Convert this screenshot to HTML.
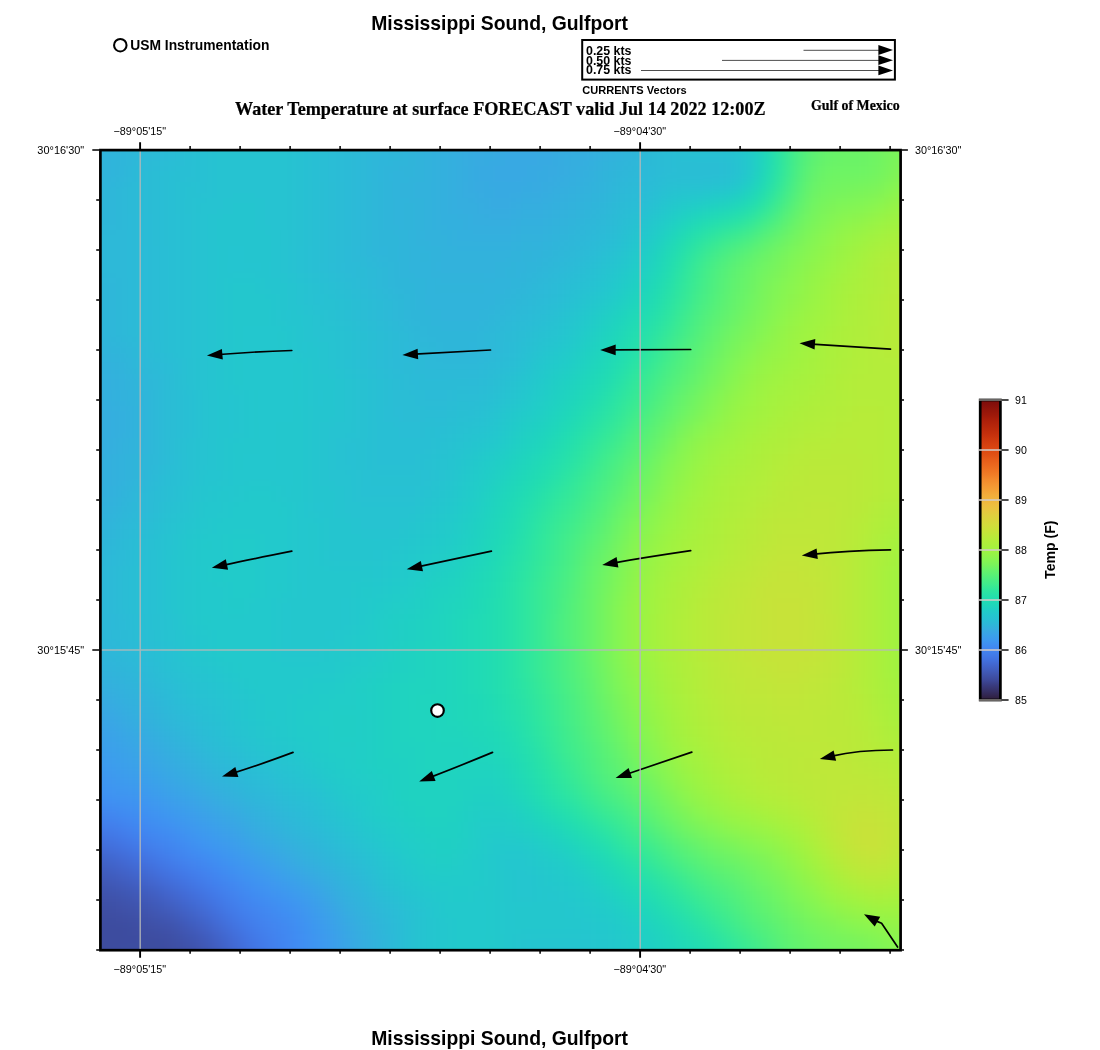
<!DOCTYPE html>
<html><head><meta charset="utf-8"><title>Mississippi Sound, Gulfport</title>
<style>
html,body{margin:0;padding:0;background:#fff;}
body{width:1100px;height:1050px;overflow:hidden;font-family:"Liberation Sans",sans-serif;}
svg{display:block;position:absolute;left:0;top:0;}
text{filter:grayscale(1);}
.sb{font-family:"Liberation Sans",sans-serif;font-weight:bold;fill:#000;}
.sr{font-family:"Liberation Sans",sans-serif;font-weight:normal;fill:#000;}
.tb{font-family:"Liberation Serif",serif;font-weight:bold;fill:#000;stroke:#000;stroke-width:.22px;}
</style></head>
<body>
<svg width="1100" height="1050" viewBox="0 0 1100 1050">
<defs>
<clipPath id="mapclip"><rect x="100" y="150" width="800" height="800"/></clipPath>
<filter id="sm" filterUnits="userSpaceOnUse" x="40" y="90" width="920" height="920" color-interpolation-filters="sRGB"><feGaussianBlur stdDeviation="8"/></filter>
<linearGradient id="cb" x1="0" y1="1" x2="0" y2="0">
<stop offset="0" stop-color="#2e1c37"/><stop offset="0.01667" stop-color="#322752"/><stop offset="0.03333" stop-color="#36326a"/><stop offset="0.05" stop-color="#393c81"/><stop offset="0.06667" stop-color="#3d499a"/><stop offset="0.08333" stop-color="#3f53ac"/><stop offset="0.1" stop-color="#415dbe"/><stop offset="0.1167" stop-color="#4266cf"/><stop offset="0.1333" stop-color="#4271df"/><stop offset="0.15" stop-color="#427be9"/><stop offset="0.1667" stop-color="#4284ef"/><stop offset="0.1833" stop-color="#408df2"/><stop offset="0.2" stop-color="#3d99ef"/><stop offset="0.2167" stop-color="#3aa2e9"/><stop offset="0.2333" stop-color="#37abe1"/><stop offset="0.25" stop-color="#2eb6d9"/><stop offset="0.2667" stop-color="#28bfd4"/><stop offset="0.2833" stop-color="#23c7ce"/><stop offset="0.3" stop-color="#20cec6"/><stop offset="0.3167" stop-color="#1fd7ba"/><stop offset="0.3333" stop-color="#21dcb2"/><stop offset="0.35" stop-color="#27e1a9"/><stop offset="0.3667" stop-color="#2fe69e"/><stop offset="0.3833" stop-color="#3deb8f"/><stop offset="0.4" stop-color="#4aee83"/><stop offset="0.4167" stop-color="#58f176"/><stop offset="0.4333" stop-color="#67f36a"/><stop offset="0.45" stop-color="#79f45b"/><stop offset="0.4667" stop-color="#87f551"/><stop offset="0.4833" stop-color="#93f448"/><stop offset="0.5" stop-color="#a1f340"/><stop offset="0.5167" stop-color="#abf03c"/><stop offset="0.5333" stop-color="#b4ed3a"/><stop offset="0.55" stop-color="#bee839"/><stop offset="0.5667" stop-color="#c9e239"/><stop offset="0.5833" stop-color="#d2dc3b"/><stop offset="0.6" stop-color="#d9d53c"/><stop offset="0.6167" stop-color="#e0ce3e"/><stop offset="0.6333" stop-color="#e8c53f"/><stop offset="0.65" stop-color="#edbd3f"/><stop offset="0.6667" stop-color="#f0b53d"/><stop offset="0.6833" stop-color="#f2ad3b"/><stop offset="0.7" stop-color="#f4a136"/><stop offset="0.7167" stop-color="#f49632"/><stop offset="0.7333" stop-color="#f38b2d"/><stop offset="0.75" stop-color="#f17d27"/><stop offset="0.7667" stop-color="#ee7222"/><stop offset="0.7833" stop-color="#eb671e"/><stop offset="0.8" stop-color="#e75d1a"/><stop offset="0.8167" stop-color="#e15115"/><stop offset="0.8333" stop-color="#dc4912"/><stop offset="0.85" stop-color="#d64110"/><stop offset="0.8667" stop-color="#cf3a0e"/><stop offset="0.8833" stop-color="#c6310d"/><stop offset="0.9" stop-color="#bd2b0b"/><stop offset="0.9167" stop-color="#b4250b"/><stop offset="0.9333" stop-color="#ab1f0a"/><stop offset="0.95" stop-color="#9e190a"/><stop offset="0.9667" stop-color="#93150a"/><stop offset="0.9833" stop-color="#87100b"/><stop offset="1" stop-color="#7a0d0b"/>
</linearGradient>
<path id="ah" d="M0 0L15.5 -5.4L15.5 5.4Z"/>
</defs>
<rect x="0" y="0" width="1100" height="1050" fill="#fff"/>

<!-- temperature field -->
<rect x="100" y="150" width="800" height="800" fill="#2bbfd0"/>
<g clip-path="url(#mapclip)"><g filter="url(#sm)"><g transform="translate(100,150) scale(16)" stroke-width="1.02" shape-rendering="crispEdges">
<path d="M-3 -2.5h4" stroke="#30b4db"/>
<path d="M1 -2.5h1" stroke="#2eb6d9"/>
<path d="M2 -2.5h1" stroke="#2db9d8"/>
<path d="M3 -2.5h1" stroke="#2bbbd7"/>
<path d="M4 -2.5h1" stroke="#2abdd6"/>
<path d="M5 -2.5h1" stroke="#28bfd4"/>
<path d="M6 -2.5h1" stroke="#27c1d3"/>
<path d="M7 -2.5h5" stroke="#26c3d1"/>
<path d="M12 -2.5h1" stroke="#27c1d2"/>
<path d="M13 -2.5h1" stroke="#28bfd4"/>
<path d="M14 -2.5h1" stroke="#2abdd5"/>
<path d="M15 -2.5h1" stroke="#2bbbd7"/>
<path d="M16 -2.5h1" stroke="#2db9d8"/>
<path d="M17 -2.5h1" stroke="#2db9d7"/>
<path d="M18 -2.5h1" stroke="#2eb6d9"/>
<path d="M19 -2.5h1" stroke="#30b4da"/>
<path d="M20 -2.5h1" stroke="#32b2dc"/>
<path d="M21 -2.5h1" stroke="#33b0de"/>
<path d="M22 -2.5h1" stroke="#35aedf"/>
<path d="M23 -2.5h1" stroke="#37abe1"/>
<path d="M24 -2.5h1" stroke="#36abe1"/>
<path d="M25 -2.5h2" stroke="#38a9e3"/>
<path d="M27 -2.5h2" stroke="#36abe1"/>
<path d="M29 -2.5h1" stroke="#37abe1"/>
<path d="M30 -2.5h1" stroke="#35aedf"/>
<path d="M31 -2.5h1" stroke="#33b0de"/>
<path d="M32 -2.5h1" stroke="#32b2dc"/>
<path d="M33 -2.5h1" stroke="#2eb6d9"/>
<path d="M34 -2.5h1" stroke="#2bbbd7"/>
<path d="M35 -2.5h1" stroke="#28bfd4"/>
<path d="M36 -2.5h1" stroke="#27c1d3"/>
<path d="M37 -2.5h2" stroke="#26c3d1"/>
<path d="M39 -2.5h1" stroke="#24c5cf"/>
<path d="M40 -2.5h1" stroke="#21cdc8"/>
<path d="M41 -2.5h1" stroke="#1fd8b8"/>
<path d="M42 -2.5h1" stroke="#2de5a1"/>
<path d="M43 -2.5h1" stroke="#47ed86"/>
<path d="M44 -2.5h1" stroke="#5cf173"/>
<path d="M45 -2.5h1" stroke="#67f36a"/>
<path d="M46 -2.5h1" stroke="#6af367"/>
<path d="M47 -2.5h1" stroke="#6ef464"/>
<path d="M48 -2.5h1" stroke="#72f461"/>
<path d="M49 -2.5h1" stroke="#79f45b"/>
<path d="M50 -2.5h3" stroke="#80f556"/>
<path d="M-3 -1.5h4" stroke="#30b4db"/>
<path d="M1 -1.5h1" stroke="#2eb6d9"/>
<path d="M2 -1.5h1" stroke="#2db9d8"/>
<path d="M3 -1.5h1" stroke="#2bbbd7"/>
<path d="M4 -1.5h1" stroke="#2abdd6"/>
<path d="M5 -1.5h1" stroke="#28bfd4"/>
<path d="M6 -1.5h1" stroke="#27c1d3"/>
<path d="M7 -1.5h5" stroke="#26c3d1"/>
<path d="M12 -1.5h1" stroke="#27c1d2"/>
<path d="M13 -1.5h1" stroke="#28bfd4"/>
<path d="M14 -1.5h1" stroke="#2abdd5"/>
<path d="M15 -1.5h1" stroke="#2bbbd7"/>
<path d="M16 -1.5h1" stroke="#2db9d8"/>
<path d="M17 -1.5h1" stroke="#2db9d7"/>
<path d="M18 -1.5h1" stroke="#2eb6d9"/>
<path d="M19 -1.5h1" stroke="#30b4da"/>
<path d="M20 -1.5h1" stroke="#32b2dc"/>
<path d="M21 -1.5h1" stroke="#33b0de"/>
<path d="M22 -1.5h1" stroke="#35aedf"/>
<path d="M23 -1.5h1" stroke="#37abe1"/>
<path d="M24 -1.5h1" stroke="#36abe1"/>
<path d="M25 -1.5h2" stroke="#38a9e3"/>
<path d="M27 -1.5h2" stroke="#36abe1"/>
<path d="M29 -1.5h1" stroke="#37abe1"/>
<path d="M30 -1.5h1" stroke="#35aedf"/>
<path d="M31 -1.5h1" stroke="#33b0de"/>
<path d="M32 -1.5h1" stroke="#32b2dc"/>
<path d="M33 -1.5h1" stroke="#2eb6d9"/>
<path d="M34 -1.5h1" stroke="#2bbbd7"/>
<path d="M35 -1.5h1" stroke="#28bfd4"/>
<path d="M36 -1.5h1" stroke="#27c1d3"/>
<path d="M37 -1.5h2" stroke="#26c3d1"/>
<path d="M39 -1.5h1" stroke="#24c5cf"/>
<path d="M40 -1.5h1" stroke="#21cdc8"/>
<path d="M41 -1.5h1" stroke="#1fd8b8"/>
<path d="M42 -1.5h1" stroke="#2de5a1"/>
<path d="M43 -1.5h1" stroke="#47ed86"/>
<path d="M44 -1.5h1" stroke="#5cf173"/>
<path d="M45 -1.5h1" stroke="#67f36a"/>
<path d="M46 -1.5h1" stroke="#6af367"/>
<path d="M47 -1.5h1" stroke="#6ef464"/>
<path d="M48 -1.5h1" stroke="#72f461"/>
<path d="M49 -1.5h1" stroke="#79f45b"/>
<path d="M50 -1.5h3" stroke="#80f556"/>
<path d="M-3 -0.5h4" stroke="#30b4db"/>
<path d="M1 -0.5h1" stroke="#2eb6d9"/>
<path d="M2 -0.5h1" stroke="#2db9d8"/>
<path d="M3 -0.5h1" stroke="#2bbbd7"/>
<path d="M4 -0.5h1" stroke="#2abdd6"/>
<path d="M5 -0.5h1" stroke="#28bfd4"/>
<path d="M6 -0.5h1" stroke="#27c1d3"/>
<path d="M7 -0.5h5" stroke="#26c3d1"/>
<path d="M12 -0.5h1" stroke="#27c1d2"/>
<path d="M13 -0.5h1" stroke="#28bfd4"/>
<path d="M14 -0.5h1" stroke="#2abdd5"/>
<path d="M15 -0.5h1" stroke="#2bbbd7"/>
<path d="M16 -0.5h1" stroke="#2db9d8"/>
<path d="M17 -0.5h1" stroke="#2db9d7"/>
<path d="M18 -0.5h1" stroke="#2eb6d9"/>
<path d="M19 -0.5h1" stroke="#30b4da"/>
<path d="M20 -0.5h1" stroke="#32b2dc"/>
<path d="M21 -0.5h1" stroke="#33b0de"/>
<path d="M22 -0.5h1" stroke="#35aedf"/>
<path d="M23 -0.5h1" stroke="#37abe1"/>
<path d="M24 -0.5h1" stroke="#36abe1"/>
<path d="M25 -0.5h2" stroke="#38a9e3"/>
<path d="M27 -0.5h2" stroke="#36abe1"/>
<path d="M29 -0.5h1" stroke="#37abe1"/>
<path d="M30 -0.5h1" stroke="#35aedf"/>
<path d="M31 -0.5h1" stroke="#33b0de"/>
<path d="M32 -0.5h1" stroke="#32b2dc"/>
<path d="M33 -0.5h1" stroke="#2eb6d9"/>
<path d="M34 -0.5h1" stroke="#2bbbd7"/>
<path d="M35 -0.5h1" stroke="#28bfd4"/>
<path d="M36 -0.5h1" stroke="#27c1d3"/>
<path d="M37 -0.5h2" stroke="#26c3d1"/>
<path d="M39 -0.5h1" stroke="#24c5cf"/>
<path d="M40 -0.5h1" stroke="#21cdc8"/>
<path d="M41 -0.5h1" stroke="#1fd8b8"/>
<path d="M42 -0.5h1" stroke="#2de5a1"/>
<path d="M43 -0.5h1" stroke="#47ed86"/>
<path d="M44 -0.5h1" stroke="#5cf173"/>
<path d="M45 -0.5h1" stroke="#67f36a"/>
<path d="M46 -0.5h1" stroke="#6af367"/>
<path d="M47 -0.5h1" stroke="#6ef464"/>
<path d="M48 -0.5h1" stroke="#72f461"/>
<path d="M49 -0.5h1" stroke="#79f45b"/>
<path d="M50 -0.5h3" stroke="#80f556"/>
<path d="M-3 0.5h4" stroke="#30b4db"/>
<path d="M1 0.5h1" stroke="#2eb6da"/>
<path d="M2 0.5h1" stroke="#2db9d8"/>
<path d="M3 0.5h1" stroke="#2bbbd7"/>
<path d="M4 0.5h1" stroke="#2abdd6"/>
<path d="M5 0.5h1" stroke="#28bfd4"/>
<path d="M6 0.5h1" stroke="#27c1d3"/>
<path d="M7 0.5h5" stroke="#26c3d1"/>
<path d="M12 0.5h1" stroke="#27c1d2"/>
<path d="M13 0.5h1" stroke="#28bfd4"/>
<path d="M14 0.5h1" stroke="#2abdd6"/>
<path d="M15 0.5h1" stroke="#2bbbd7"/>
<path d="M16 0.5h1" stroke="#2db9d8"/>
<path d="M17 0.5h1" stroke="#2eb6da"/>
<path d="M18 0.5h1" stroke="#2eb6d9"/>
<path d="M19 0.5h1" stroke="#30b4da"/>
<path d="M20 0.5h1" stroke="#32b2dc"/>
<path d="M21 0.5h1" stroke="#33b0de"/>
<path d="M22 0.5h1" stroke="#35aedf"/>
<path d="M23 0.5h1" stroke="#37abe1"/>
<path d="M24 0.5h1" stroke="#36abe1"/>
<path d="M25 0.5h3" stroke="#38a9e3"/>
<path d="M28 0.5h1" stroke="#36abe1"/>
<path d="M29 0.5h2" stroke="#35aedf"/>
<path d="M31 0.5h1" stroke="#32b2dc"/>
<path d="M32 0.5h1" stroke="#30b4db"/>
<path d="M33 0.5h1" stroke="#2eb6d9"/>
<path d="M34 0.5h1" stroke="#2bbbd6"/>
<path d="M35 0.5h1" stroke="#2abdd5"/>
<path d="M36 0.5h3" stroke="#28bfd4"/>
<path d="M39 0.5h1" stroke="#27c1d2"/>
<path d="M40 0.5h1" stroke="#23c7ce"/>
<path d="M41 0.5h1" stroke="#1fd5bd"/>
<path d="M42 0.5h1" stroke="#2be4a3"/>
<path d="M43 0.5h1" stroke="#47ed86"/>
<path d="M44 0.5h1" stroke="#5cf173"/>
<path d="M45 0.5h1" stroke="#67f36a"/>
<path d="M46 0.5h2" stroke="#6af367"/>
<path d="M48 0.5h1" stroke="#6ef464"/>
<path d="M49 0.5h1" stroke="#79f45b"/>
<path d="M50 0.5h3" stroke="#80f556"/>
<path d="M-3 1.5h4" stroke="#30b4db"/>
<path d="M1 1.5h1" stroke="#2eb6da"/>
<path d="M2 1.5h1" stroke="#2bbbd6"/>
<path d="M3 1.5h1" stroke="#2abdd5"/>
<path d="M4 1.5h1" stroke="#28bfd3"/>
<path d="M5 1.5h1" stroke="#28bfd4"/>
<path d="M6 1.5h1" stroke="#27c1d3"/>
<path d="M7 1.5h5" stroke="#26c3d1"/>
<path d="M12 1.5h1" stroke="#27c1d2"/>
<path d="M13 1.5h1" stroke="#28bfd4"/>
<path d="M14 1.5h1" stroke="#2abdd6"/>
<path d="M15 1.5h1" stroke="#2bbbd7"/>
<path d="M16 1.5h1" stroke="#2db9d8"/>
<path d="M17 1.5h1" stroke="#2eb6da"/>
<path d="M18 1.5h1" stroke="#30b4db"/>
<path d="M19 1.5h1" stroke="#30b4da"/>
<path d="M20 1.5h1" stroke="#32b2dc"/>
<path d="M21 1.5h1" stroke="#33b0de"/>
<path d="M22 1.5h1" stroke="#35aedf"/>
<path d="M23 1.5h1" stroke="#36abe1"/>
<path d="M24 1.5h3" stroke="#38a9e3"/>
<path d="M27 1.5h1" stroke="#36abe1"/>
<path d="M28 1.5h1" stroke="#37abe1"/>
<path d="M29 1.5h1" stroke="#35aedf"/>
<path d="M30 1.5h1" stroke="#33b0de"/>
<path d="M31 1.5h1" stroke="#30b4da"/>
<path d="M32 1.5h1" stroke="#2eb6d9"/>
<path d="M33 1.5h1" stroke="#2db9d8"/>
<path d="M34 1.5h1" stroke="#2bbbd7"/>
<path d="M35 1.5h4" stroke="#2abdd5"/>
<path d="M39 1.5h1" stroke="#28bfd4"/>
<path d="M40 1.5h1" stroke="#23c7ce"/>
<path d="M41 1.5h1" stroke="#1fd7ba"/>
<path d="M42 1.5h1" stroke="#2de5a1"/>
<path d="M43 1.5h1" stroke="#4aee83"/>
<path d="M44 1.5h1" stroke="#63f26d"/>
<path d="M45 1.5h3" stroke="#6ef464"/>
<path d="M48 1.5h1" stroke="#72f461"/>
<path d="M49 1.5h1" stroke="#7cf459"/>
<path d="M50 1.5h3" stroke="#87f551"/>
<path d="M-3 2.5h3" stroke="#30b4db"/>
<path d="M0 2.5h1" stroke="#2eb6d9"/>
<path d="M1 2.5h1" stroke="#2db9d8"/>
<path d="M2 2.5h1" stroke="#2bbbd6"/>
<path d="M3 2.5h1" stroke="#2abdd5"/>
<path d="M4 2.5h1" stroke="#28bfd4"/>
<path d="M5 2.5h1" stroke="#27c1d2"/>
<path d="M6 2.5h1" stroke="#27c1d3"/>
<path d="M7 2.5h5" stroke="#26c3d1"/>
<path d="M12 2.5h1" stroke="#27c1d2"/>
<path d="M13 2.5h1" stroke="#28bfd4"/>
<path d="M14 2.5h1" stroke="#2abdd5"/>
<path d="M15 2.5h1" stroke="#2bbbd7"/>
<path d="M16 2.5h1" stroke="#2db9d8"/>
<path d="M17 2.5h1" stroke="#2eb6d9"/>
<path d="M18 2.5h1" stroke="#30b4db"/>
<path d="M19 2.5h2" stroke="#32b2dc"/>
<path d="M21 2.5h1" stroke="#33b0de"/>
<path d="M22 2.5h1" stroke="#35aedf"/>
<path d="M23 2.5h1" stroke="#37abe1"/>
<path d="M24 2.5h1" stroke="#36abe1"/>
<path d="M25 2.5h1" stroke="#38a9e3"/>
<path d="M26 2.5h1" stroke="#36abe1"/>
<path d="M27 2.5h1" stroke="#37abe1"/>
<path d="M28 2.5h1" stroke="#35aedf"/>
<path d="M29 2.5h1" stroke="#33b0de"/>
<path d="M30 2.5h1" stroke="#32b2dc"/>
<path d="M31 2.5h1" stroke="#30b4db"/>
<path d="M32 2.5h1" stroke="#2db9d8"/>
<path d="M33 2.5h1" stroke="#2bbbd7"/>
<path d="M34 2.5h1" stroke="#2abdd6"/>
<path d="M35 2.5h1" stroke="#27c1d2"/>
<path d="M36 2.5h2" stroke="#26c3d1"/>
<path d="M38 2.5h1" stroke="#24c5cf"/>
<path d="M39 2.5h1" stroke="#23c7ce"/>
<path d="M40 2.5h1" stroke="#1fd0c3"/>
<path d="M41 2.5h1" stroke="#21dcb2"/>
<path d="M42 2.5h1" stroke="#35e898"/>
<path d="M43 2.5h1" stroke="#51ef7d"/>
<path d="M44 2.5h1" stroke="#6af367"/>
<path d="M45 2.5h1" stroke="#72f461"/>
<path d="M46 2.5h1" stroke="#75f45e"/>
<path d="M47 2.5h1" stroke="#79f45b"/>
<path d="M48 2.5h1" stroke="#7cf459"/>
<path d="M49 2.5h1" stroke="#87f551"/>
<path d="M50 2.5h3" stroke="#90f44a"/>
<path d="M-3 3.5h4" stroke="#2eb6d9"/>
<path d="M1 3.5h1" stroke="#2db9d8"/>
<path d="M2 3.5h1" stroke="#2bbbd6"/>
<path d="M3 3.5h1" stroke="#2abdd5"/>
<path d="M4 3.5h1" stroke="#28bfd4"/>
<path d="M5 3.5h1" stroke="#27c1d2"/>
<path d="M6 3.5h2" stroke="#26c3d1"/>
<path d="M8 3.5h2" stroke="#24c5cf"/>
<path d="M10 3.5h2" stroke="#26c3d1"/>
<path d="M12 3.5h1" stroke="#27c1d2"/>
<path d="M13 3.5h1" stroke="#28bfd4"/>
<path d="M14 3.5h1" stroke="#2abdd5"/>
<path d="M15 3.5h1" stroke="#2bbbd7"/>
<path d="M16 3.5h1" stroke="#2db9d8"/>
<path d="M17 3.5h1" stroke="#2eb6d9"/>
<path d="M18 3.5h1" stroke="#30b4db"/>
<path d="M19 3.5h1" stroke="#30b4da"/>
<path d="M20 3.5h1" stroke="#32b2dc"/>
<path d="M21 3.5h1" stroke="#33b0de"/>
<path d="M22 3.5h2" stroke="#35aedf"/>
<path d="M24 3.5h2" stroke="#37abe1"/>
<path d="M26 3.5h2" stroke="#35aedf"/>
<path d="M28 3.5h1" stroke="#33b0de"/>
<path d="M29 3.5h1" stroke="#32b2dc"/>
<path d="M30 3.5h1" stroke="#30b4db"/>
<path d="M31 3.5h1" stroke="#2eb6d9"/>
<path d="M32 3.5h1" stroke="#2bbbd6"/>
<path d="M33 3.5h1" stroke="#2abdd6"/>
<path d="M34 3.5h1" stroke="#27c1d3"/>
<path d="M35 3.5h1" stroke="#23c7cd"/>
<path d="M36 3.5h1" stroke="#21cbca"/>
<path d="M37 3.5h1" stroke="#20cec6"/>
<path d="M38 3.5h1" stroke="#1fd2c1"/>
<path d="M39 3.5h1" stroke="#1fd5bd"/>
<path d="M40 3.5h1" stroke="#20dbb4"/>
<path d="M41 3.5h1" stroke="#2be4a3"/>
<path d="M42 3.5h1" stroke="#43ec89"/>
<path d="M43 3.5h1" stroke="#5cf173"/>
<path d="M44 3.5h1" stroke="#72f461"/>
<path d="M45 3.5h1" stroke="#7cf459"/>
<path d="M46 3.5h1" stroke="#80f556"/>
<path d="M47 3.5h1" stroke="#83f554"/>
<path d="M48 3.5h1" stroke="#8af54f"/>
<path d="M49 3.5h1" stroke="#93f448"/>
<path d="M50 3.5h3" stroke="#9cf343"/>
<path d="M-3 4.5h4" stroke="#2eb6d9"/>
<path d="M1 4.5h1" stroke="#2db9d8"/>
<path d="M2 4.5h1" stroke="#2bbbd7"/>
<path d="M3 4.5h1" stroke="#2abdd5"/>
<path d="M4 4.5h1" stroke="#28bfd4"/>
<path d="M5 4.5h1" stroke="#27c1d3"/>
<path d="M6 4.5h1" stroke="#26c3d1"/>
<path d="M7 4.5h3" stroke="#24c5cf"/>
<path d="M10 4.5h2" stroke="#26c3d1"/>
<path d="M12 4.5h1" stroke="#27c1d2"/>
<path d="M13 4.5h1" stroke="#28bfd4"/>
<path d="M14 4.5h1" stroke="#2abdd5"/>
<path d="M15 4.5h1" stroke="#2bbbd7"/>
<path d="M16 4.5h1" stroke="#2db9d8"/>
<path d="M17 4.5h1" stroke="#2eb6d9"/>
<path d="M18 4.5h1" stroke="#30b4db"/>
<path d="M19 4.5h1" stroke="#30b4da"/>
<path d="M20 4.5h1" stroke="#32b2dc"/>
<path d="M21 4.5h2" stroke="#33b0de"/>
<path d="M23 4.5h3" stroke="#35aedf"/>
<path d="M26 4.5h2" stroke="#33b0de"/>
<path d="M28 4.5h1" stroke="#32b2dc"/>
<path d="M29 4.5h1" stroke="#30b4db"/>
<path d="M30 4.5h1" stroke="#2eb6d9"/>
<path d="M31 4.5h1" stroke="#2db9d8"/>
<path d="M32 4.5h1" stroke="#2abdd5"/>
<path d="M33 4.5h1" stroke="#27c1d2"/>
<path d="M34 4.5h1" stroke="#23c7cd"/>
<path d="M35 4.5h1" stroke="#21cdc8"/>
<path d="M36 4.5h1" stroke="#1fd4bf"/>
<path d="M37 4.5h1" stroke="#20dab6"/>
<path d="M38 4.5h1" stroke="#23deb0"/>
<path d="M39 4.5h1" stroke="#27e1a9"/>
<path d="M40 4.5h1" stroke="#2fe69e"/>
<path d="M41 4.5h1" stroke="#40ec8c"/>
<path d="M42 4.5h1" stroke="#54f079"/>
<path d="M43 4.5h1" stroke="#6af367"/>
<path d="M44 4.5h1" stroke="#79f45b"/>
<path d="M45 4.5h1" stroke="#83f554"/>
<path d="M46 4.5h1" stroke="#8df54d"/>
<path d="M47 4.5h1" stroke="#90f44a"/>
<path d="M48 4.5h1" stroke="#99f445"/>
<path d="M49 4.5h1" stroke="#9ef341"/>
<path d="M50 4.5h3" stroke="#a3f23f"/>
<path d="M-3 5.5h3" stroke="#2eb6d9"/>
<path d="M0 5.5h2" stroke="#2db9d8"/>
<path d="M2 5.5h1" stroke="#2bbbd7"/>
<path d="M3 5.5h1" stroke="#2abdd5"/>
<path d="M4 5.5h1" stroke="#28bfd4"/>
<path d="M5 5.5h1" stroke="#27c1d3"/>
<path d="M6 5.5h1" stroke="#26c3d1"/>
<path d="M7 5.5h4" stroke="#24c5cf"/>
<path d="M11 5.5h1" stroke="#26c3d1"/>
<path d="M12 5.5h1" stroke="#27c1d2"/>
<path d="M13 5.5h1" stroke="#28bfd4"/>
<path d="M14 5.5h1" stroke="#2abdd5"/>
<path d="M15 5.5h1" stroke="#2bbbd6"/>
<path d="M16 5.5h1" stroke="#2db9d8"/>
<path d="M17 5.5h2" stroke="#2eb6d9"/>
<path d="M19 5.5h1" stroke="#30b4db"/>
<path d="M20 5.5h2" stroke="#32b2dc"/>
<path d="M22 5.5h4" stroke="#33b0de"/>
<path d="M26 5.5h2" stroke="#32b2dc"/>
<path d="M28 5.5h1" stroke="#30b4db"/>
<path d="M29 5.5h1" stroke="#2eb6d9"/>
<path d="M30 5.5h1" stroke="#2db9d8"/>
<path d="M31 5.5h1" stroke="#2bbbd7"/>
<path d="M32 5.5h1" stroke="#28bfd4"/>
<path d="M33 5.5h1" stroke="#24c5cf"/>
<path d="M34 5.5h1" stroke="#21cbca"/>
<path d="M35 5.5h1" stroke="#1fd4bf"/>
<path d="M36 5.5h1" stroke="#21dcb2"/>
<path d="M37 5.5h1" stroke="#29e2a6"/>
<path d="M38 5.5h1" stroke="#32e79b"/>
<path d="M39 5.5h1" stroke="#3deb8f"/>
<path d="M40 5.5h1" stroke="#47ed86"/>
<path d="M41 5.5h1" stroke="#58f176"/>
<path d="M42 5.5h1" stroke="#67f36a"/>
<path d="M43 5.5h1" stroke="#75f45e"/>
<path d="M44 5.5h1" stroke="#83f554"/>
<path d="M45 5.5h1" stroke="#8df54d"/>
<path d="M46 5.5h1" stroke="#96f446"/>
<path d="M47 5.5h1" stroke="#9cf343"/>
<path d="M48 5.5h1" stroke="#a3f23f"/>
<path d="M49 5.5h1" stroke="#a8f13d"/>
<path d="M50 5.5h3" stroke="#adef3b"/>
<path d="M-3 6.5h3" stroke="#2eb6da"/>
<path d="M0 6.5h2" stroke="#2db9d8"/>
<path d="M2 6.5h1" stroke="#2bbbd7"/>
<path d="M3 6.5h1" stroke="#2abdd6"/>
<path d="M4 6.5h1" stroke="#28bfd4"/>
<path d="M5 6.5h1" stroke="#27c1d3"/>
<path d="M6 6.5h1" stroke="#26c3d1"/>
<path d="M7 6.5h1" stroke="#24c5cf"/>
<path d="M8 6.5h1" stroke="#24c5d0"/>
<path d="M9 6.5h2" stroke="#24c5cf"/>
<path d="M11 6.5h1" stroke="#26c3d1"/>
<path d="M12 6.5h1" stroke="#27c1d3"/>
<path d="M13 6.5h1" stroke="#28bfd4"/>
<path d="M14 6.5h1" stroke="#2abdd5"/>
<path d="M15 6.5h1" stroke="#2bbbd7"/>
<path d="M16 6.5h1" stroke="#2db9d8"/>
<path d="M17 6.5h1" stroke="#2eb6da"/>
<path d="M18 6.5h1" stroke="#2eb6d9"/>
<path d="M19 6.5h1" stroke="#30b4db"/>
<path d="M20 6.5h1" stroke="#30b4da"/>
<path d="M21 6.5h5" stroke="#32b2dc"/>
<path d="M26 6.5h1" stroke="#30b4da"/>
<path d="M27 6.5h1" stroke="#30b4db"/>
<path d="M28 6.5h1" stroke="#2eb6d9"/>
<path d="M29 6.5h1" stroke="#2db9d8"/>
<path d="M30 6.5h1" stroke="#2bbbd7"/>
<path d="M31 6.5h1" stroke="#28bfd4"/>
<path d="M32 6.5h1" stroke="#26c3d1"/>
<path d="M33 6.5h1" stroke="#22c9cc"/>
<path d="M34 6.5h1" stroke="#1fd0c3"/>
<path d="M35 6.5h1" stroke="#20dab6"/>
<path d="M36 6.5h1" stroke="#27e1a9"/>
<path d="M37 6.5h1" stroke="#35e898"/>
<path d="M38 6.5h1" stroke="#43ec89"/>
<path d="M39 6.5h1" stroke="#51ef7d"/>
<path d="M40 6.5h1" stroke="#5cf173"/>
<path d="M41 6.5h1" stroke="#6af367"/>
<path d="M42 6.5h1" stroke="#75f45e"/>
<path d="M43 6.5h1" stroke="#80f556"/>
<path d="M44 6.5h1" stroke="#8af54f"/>
<path d="M45 6.5h1" stroke="#93f448"/>
<path d="M46 6.5h1" stroke="#9cf343"/>
<path d="M47 6.5h1" stroke="#a3f23f"/>
<path d="M48 6.5h1" stroke="#abf03c"/>
<path d="M49 6.5h1" stroke="#afee3b"/>
<path d="M50 6.5h3" stroke="#b2ee3a"/>
<path d="M-3 7.5h3" stroke="#2eb6d9"/>
<path d="M0 7.5h2" stroke="#2db9d8"/>
<path d="M2 7.5h1" stroke="#2bbbd7"/>
<path d="M3 7.5h1" stroke="#2abdd6"/>
<path d="M4 7.5h1" stroke="#28bfd4"/>
<path d="M5 7.5h1" stroke="#27c1d3"/>
<path d="M6 7.5h1" stroke="#26c3d1"/>
<path d="M7 7.5h1" stroke="#24c5cf"/>
<path d="M8 7.5h2" stroke="#24c5d0"/>
<path d="M10 7.5h1" stroke="#24c5cf"/>
<path d="M11 7.5h1" stroke="#26c3d1"/>
<path d="M12 7.5h1" stroke="#27c1d3"/>
<path d="M13 7.5h1" stroke="#28bfd4"/>
<path d="M14 7.5h1" stroke="#2abdd6"/>
<path d="M15 7.5h1" stroke="#2bbbd7"/>
<path d="M16 7.5h1" stroke="#2bbbd6"/>
<path d="M17 7.5h1" stroke="#2db9d8"/>
<path d="M18 7.5h1" stroke="#2eb6d9"/>
<path d="M19 7.5h2" stroke="#30b4db"/>
<path d="M21 7.5h4" stroke="#32b2dc"/>
<path d="M25 7.5h1" stroke="#30b4da"/>
<path d="M26 7.5h1" stroke="#30b4db"/>
<path d="M27 7.5h1" stroke="#2eb6d9"/>
<path d="M28 7.5h1" stroke="#2db9d8"/>
<path d="M29 7.5h1" stroke="#2bbbd7"/>
<path d="M30 7.5h1" stroke="#28bfd4"/>
<path d="M31 7.5h1" stroke="#26c3d1"/>
<path d="M32 7.5h1" stroke="#23c7cd"/>
<path d="M33 7.5h1" stroke="#21cdc8"/>
<path d="M34 7.5h1" stroke="#1fd4bf"/>
<path d="M35 7.5h1" stroke="#21dcb2"/>
<path d="M36 7.5h1" stroke="#2de5a1"/>
<path d="M37 7.5h1" stroke="#3deb8f"/>
<path d="M38 7.5h1" stroke="#4eef80"/>
<path d="M39 7.5h1" stroke="#5cf173"/>
<path d="M40 7.5h1" stroke="#67f36a"/>
<path d="M41 7.5h1" stroke="#72f461"/>
<path d="M42 7.5h1" stroke="#7cf459"/>
<path d="M43 7.5h1" stroke="#87f551"/>
<path d="M44 7.5h1" stroke="#90f44a"/>
<path d="M45 7.5h1" stroke="#99f445"/>
<path d="M46 7.5h1" stroke="#a1f340"/>
<path d="M47 7.5h1" stroke="#a8f13d"/>
<path d="M48 7.5h1" stroke="#afee3b"/>
<path d="M49 7.5h1" stroke="#b4ed3a"/>
<path d="M50 7.5h3" stroke="#b7ec39"/>
<path d="M-3 8.5h4" stroke="#2eb6d9"/>
<path d="M1 8.5h1" stroke="#2db9d8"/>
<path d="M2 8.5h1" stroke="#2bbbd7"/>
<path d="M3 8.5h1" stroke="#2abdd6"/>
<path d="M4 8.5h1" stroke="#28bfd4"/>
<path d="M5 8.5h1" stroke="#27c1d3"/>
<path d="M6 8.5h1" stroke="#26c3d1"/>
<path d="M7 8.5h1" stroke="#24c5cf"/>
<path d="M8 8.5h2" stroke="#23c7cd"/>
<path d="M10 8.5h2" stroke="#24c5cf"/>
<path d="M12 8.5h1" stroke="#26c3d1"/>
<path d="M13 8.5h1" stroke="#27c1d2"/>
<path d="M14 8.5h1" stroke="#28bfd4"/>
<path d="M15 8.5h1" stroke="#2abdd5"/>
<path d="M16 8.5h1" stroke="#2bbbd7"/>
<path d="M17 8.5h1" stroke="#2db9d8"/>
<path d="M18 8.5h2" stroke="#2eb6d9"/>
<path d="M20 8.5h1" stroke="#30b4db"/>
<path d="M21 8.5h3" stroke="#30b4da"/>
<path d="M24 8.5h2" stroke="#30b4db"/>
<path d="M26 8.5h1" stroke="#2eb6d9"/>
<path d="M27 8.5h1" stroke="#2db9d8"/>
<path d="M28 8.5h1" stroke="#2bbbd7"/>
<path d="M29 8.5h1" stroke="#28bfd4"/>
<path d="M30 8.5h1" stroke="#27c1d3"/>
<path d="M31 8.5h1" stroke="#24c5d0"/>
<path d="M32 8.5h1" stroke="#21cbca"/>
<path d="M33 8.5h1" stroke="#1fd0c3"/>
<path d="M34 8.5h1" stroke="#1fd8b8"/>
<path d="M35 8.5h1" stroke="#24dfad"/>
<path d="M36 8.5h1" stroke="#32e79b"/>
<path d="M37 8.5h1" stroke="#40ec8c"/>
<path d="M38 8.5h1" stroke="#51ef7d"/>
<path d="M39 8.5h1" stroke="#5ff270"/>
<path d="M40 8.5h1" stroke="#6af367"/>
<path d="M41 8.5h1" stroke="#79f45b"/>
<path d="M42 8.5h1" stroke="#83f554"/>
<path d="M43 8.5h1" stroke="#8df54d"/>
<path d="M44 8.5h1" stroke="#96f446"/>
<path d="M45 8.5h1" stroke="#9ef341"/>
<path d="M46 8.5h1" stroke="#a6f13e"/>
<path d="M47 8.5h1" stroke="#abf03c"/>
<path d="M48 8.5h1" stroke="#afee3b"/>
<path d="M49 8.5h1" stroke="#b4ed3a"/>
<path d="M50 8.5h3" stroke="#b7ec39"/>
<path d="M-3 9.5h4" stroke="#2eb6d9"/>
<path d="M1 9.5h1" stroke="#2db9d8"/>
<path d="M2 9.5h1" stroke="#2bbbd7"/>
<path d="M3 9.5h1" stroke="#2abdd6"/>
<path d="M4 9.5h1" stroke="#28bfd4"/>
<path d="M5 9.5h1" stroke="#27c1d3"/>
<path d="M6 9.5h1" stroke="#26c3d1"/>
<path d="M7 9.5h1" stroke="#24c5cf"/>
<path d="M8 9.5h3" stroke="#23c7cd"/>
<path d="M11 9.5h1" stroke="#24c5cf"/>
<path d="M12 9.5h1" stroke="#26c3d1"/>
<path d="M13 9.5h1" stroke="#27c1d3"/>
<path d="M14 9.5h1" stroke="#27c1d2"/>
<path d="M15 9.5h1" stroke="#28bfd3"/>
<path d="M16 9.5h1" stroke="#2abdd5"/>
<path d="M17 9.5h1" stroke="#2bbbd6"/>
<path d="M18 9.5h1" stroke="#2db9d8"/>
<path d="M19 9.5h1" stroke="#2eb6d9"/>
<path d="M20 9.5h5" stroke="#30b4db"/>
<path d="M25 9.5h1" stroke="#2eb6d9"/>
<path d="M26 9.5h1" stroke="#2db9d8"/>
<path d="M27 9.5h1" stroke="#2bbbd7"/>
<path d="M28 9.5h1" stroke="#2abdd6"/>
<path d="M29 9.5h1" stroke="#27c1d3"/>
<path d="M30 9.5h1" stroke="#24c5cf"/>
<path d="M31 9.5h1" stroke="#22c9cc"/>
<path d="M32 9.5h1" stroke="#20cec6"/>
<path d="M33 9.5h1" stroke="#1fd5bd"/>
<path d="M34 9.5h1" stroke="#20dbb4"/>
<path d="M35 9.5h1" stroke="#29e2a6"/>
<path d="M36 9.5h1" stroke="#35e898"/>
<path d="M37 9.5h1" stroke="#47ed86"/>
<path d="M38 9.5h1" stroke="#54f079"/>
<path d="M39 9.5h1" stroke="#63f26d"/>
<path d="M40 9.5h1" stroke="#6ef464"/>
<path d="M41 9.5h1" stroke="#7cf459"/>
<path d="M42 9.5h1" stroke="#87f551"/>
<path d="M43 9.5h1" stroke="#90f44a"/>
<path d="M44 9.5h1" stroke="#99f445"/>
<path d="M45 9.5h1" stroke="#a1f340"/>
<path d="M46 9.5h1" stroke="#a8f13d"/>
<path d="M47 9.5h1" stroke="#adef3b"/>
<path d="M48 9.5h1" stroke="#b2ee3a"/>
<path d="M49 9.5h4" stroke="#b7ec39"/>
<path d="M-3 10.5h4" stroke="#2eb6d9"/>
<path d="M1 10.5h1" stroke="#2db9d8"/>
<path d="M2 10.5h1" stroke="#2bbbd7"/>
<path d="M3 10.5h1" stroke="#2abdd5"/>
<path d="M4 10.5h1" stroke="#28bfd4"/>
<path d="M5 10.5h1" stroke="#27c1d3"/>
<path d="M6 10.5h1" stroke="#26c3d1"/>
<path d="M7 10.5h1" stroke="#24c5cf"/>
<path d="M8 10.5h3" stroke="#23c7cd"/>
<path d="M11 10.5h1" stroke="#24c5d0"/>
<path d="M12 10.5h1" stroke="#24c5cf"/>
<path d="M13 10.5h1" stroke="#26c3d1"/>
<path d="M14 10.5h1" stroke="#27c1d2"/>
<path d="M15 10.5h1" stroke="#28bfd4"/>
<path d="M16 10.5h1" stroke="#2abdd5"/>
<path d="M17 10.5h1" stroke="#2bbbd7"/>
<path d="M18 10.5h1" stroke="#2db9d8"/>
<path d="M19 10.5h2" stroke="#2eb6d9"/>
<path d="M21 10.5h3" stroke="#30b4db"/>
<path d="M24 10.5h1" stroke="#2eb6d9"/>
<path d="M25 10.5h1" stroke="#2db9d8"/>
<path d="M26 10.5h1" stroke="#2bbbd7"/>
<path d="M27 10.5h1" stroke="#2abdd6"/>
<path d="M28 10.5h1" stroke="#27c1d2"/>
<path d="M29 10.5h1" stroke="#24c5cf"/>
<path d="M30 10.5h1" stroke="#22c9cc"/>
<path d="M31 10.5h1" stroke="#20cec5"/>
<path d="M32 10.5h1" stroke="#1fd4bf"/>
<path d="M33 10.5h1" stroke="#20dab6"/>
<path d="M34 10.5h1" stroke="#24dfad"/>
<path d="M35 10.5h1" stroke="#2de5a1"/>
<path d="M36 10.5h1" stroke="#3deb8f"/>
<path d="M37 10.5h1" stroke="#4eef80"/>
<path d="M38 10.5h1" stroke="#5cf173"/>
<path d="M39 10.5h1" stroke="#67f36a"/>
<path d="M40 10.5h1" stroke="#75f45e"/>
<path d="M41 10.5h1" stroke="#80f556"/>
<path d="M42 10.5h1" stroke="#8df54d"/>
<path d="M43 10.5h1" stroke="#96f446"/>
<path d="M44 10.5h1" stroke="#9ef341"/>
<path d="M45 10.5h1" stroke="#a3f23f"/>
<path d="M46 10.5h1" stroke="#abf03c"/>
<path d="M47 10.5h1" stroke="#afee3b"/>
<path d="M48 10.5h1" stroke="#b2ee3a"/>
<path d="M49 10.5h4" stroke="#b7ec39"/>
<path d="M-3 11.5h3" stroke="#30b4db"/>
<path d="M0 11.5h1" stroke="#2eb6d9"/>
<path d="M1 11.5h1" stroke="#2db9d8"/>
<path d="M2 11.5h1" stroke="#2bbbd6"/>
<path d="M3 11.5h1" stroke="#2abdd5"/>
<path d="M4 11.5h1" stroke="#28bfd4"/>
<path d="M5 11.5h1" stroke="#27c1d3"/>
<path d="M6 11.5h1" stroke="#26c3d1"/>
<path d="M7 11.5h1" stroke="#24c5cf"/>
<path d="M8 11.5h1" stroke="#23c7cd"/>
<path d="M9 11.5h2" stroke="#23c7ce"/>
<path d="M11 11.5h1" stroke="#23c7cd"/>
<path d="M12 11.5h1" stroke="#24c5cf"/>
<path d="M13 11.5h2" stroke="#26c3d1"/>
<path d="M15 11.5h1" stroke="#27c1d2"/>
<path d="M16 11.5h1" stroke="#28bfd3"/>
<path d="M17 11.5h1" stroke="#2abdd5"/>
<path d="M18 11.5h1" stroke="#2bbbd6"/>
<path d="M19 11.5h1" stroke="#2db9d8"/>
<path d="M20 11.5h4" stroke="#2eb6d9"/>
<path d="M24 11.5h1" stroke="#2db9d8"/>
<path d="M25 11.5h1" stroke="#2bbbd6"/>
<path d="M26 11.5h1" stroke="#2abdd5"/>
<path d="M27 11.5h1" stroke="#27c1d2"/>
<path d="M28 11.5h1" stroke="#26c3d1"/>
<path d="M29 11.5h1" stroke="#23c7ce"/>
<path d="M30 11.5h1" stroke="#21cdc8"/>
<path d="M31 11.5h1" stroke="#1fd2c1"/>
<path d="M32 11.5h1" stroke="#1fd7ba"/>
<path d="M33 11.5h1" stroke="#23deb0"/>
<path d="M34 11.5h1" stroke="#29e2a6"/>
<path d="M35 11.5h1" stroke="#35e898"/>
<path d="M36 11.5h1" stroke="#43ec89"/>
<path d="M37 11.5h1" stroke="#54f079"/>
<path d="M38 11.5h1" stroke="#63f26d"/>
<path d="M39 11.5h1" stroke="#72f461"/>
<path d="M40 11.5h1" stroke="#7cf459"/>
<path d="M41 11.5h1" stroke="#87f551"/>
<path d="M42 11.5h1" stroke="#93f448"/>
<path d="M43 11.5h1" stroke="#9cf343"/>
<path d="M44 11.5h1" stroke="#a1f340"/>
<path d="M45 11.5h1" stroke="#a8f13d"/>
<path d="M46 11.5h1" stroke="#adef3b"/>
<path d="M47 11.5h1" stroke="#afee3b"/>
<path d="M48 11.5h1" stroke="#b4ed3a"/>
<path d="M49 11.5h4" stroke="#b7ec39"/>
<path d="M-3 12.5h3" stroke="#30b4da"/>
<path d="M0 12.5h1" stroke="#30b4db"/>
<path d="M1 12.5h1" stroke="#2eb6d9"/>
<path d="M2 12.5h1" stroke="#2db9d8"/>
<path d="M3 12.5h1" stroke="#2abdd5"/>
<path d="M4 12.5h1" stroke="#28bfd4"/>
<path d="M5 12.5h1" stroke="#27c1d3"/>
<path d="M6 12.5h1" stroke="#26c3d1"/>
<path d="M7 12.5h1" stroke="#24c5cf"/>
<path d="M8 12.5h1" stroke="#23c7cd"/>
<path d="M9 12.5h2" stroke="#23c7ce"/>
<path d="M11 12.5h1" stroke="#23c7cd"/>
<path d="M12 12.5h1" stroke="#24c5d0"/>
<path d="M13 12.5h1" stroke="#24c5cf"/>
<path d="M14 12.5h1" stroke="#26c3d1"/>
<path d="M15 12.5h1" stroke="#27c1d2"/>
<path d="M16 12.5h1" stroke="#28bfd4"/>
<path d="M17 12.5h1" stroke="#2abdd5"/>
<path d="M18 12.5h1" stroke="#2bbbd7"/>
<path d="M19 12.5h2" stroke="#2db9d8"/>
<path d="M21 12.5h2" stroke="#2eb6d9"/>
<path d="M23 12.5h1" stroke="#2eb6da"/>
<path d="M24 12.5h1" stroke="#2db9d8"/>
<path d="M25 12.5h1" stroke="#2bbbd7"/>
<path d="M26 12.5h1" stroke="#28bfd4"/>
<path d="M27 12.5h1" stroke="#26c3d1"/>
<path d="M28 12.5h1" stroke="#23c7ce"/>
<path d="M29 12.5h1" stroke="#21cbca"/>
<path d="M30 12.5h1" stroke="#1fd0c3"/>
<path d="M31 12.5h1" stroke="#1fd5bd"/>
<path d="M32 12.5h1" stroke="#20dbb4"/>
<path d="M33 12.5h1" stroke="#25e0ab"/>
<path d="M34 12.5h1" stroke="#2fe69e"/>
<path d="M35 12.5h1" stroke="#3deb8f"/>
<path d="M36 12.5h1" stroke="#4eef80"/>
<path d="M37 12.5h1" stroke="#5cf173"/>
<path d="M38 12.5h1" stroke="#6af367"/>
<path d="M39 12.5h1" stroke="#79f45b"/>
<path d="M40 12.5h1" stroke="#83f554"/>
<path d="M41 12.5h1" stroke="#90f44a"/>
<path d="M42 12.5h1" stroke="#96f446"/>
<path d="M43 12.5h1" stroke="#9ef341"/>
<path d="M44 12.5h1" stroke="#a3f23f"/>
<path d="M45 12.5h1" stroke="#abf03c"/>
<path d="M46 12.5h1" stroke="#adef3b"/>
<path d="M47 12.5h1" stroke="#b2ee3a"/>
<path d="M48 12.5h1" stroke="#b4ed3a"/>
<path d="M49 12.5h4" stroke="#b7ec39"/>
<path d="M-3 13.5h4" stroke="#32b2dc"/>
<path d="M1 13.5h1" stroke="#30b4db"/>
<path d="M2 13.5h1" stroke="#2db9d8"/>
<path d="M3 13.5h1" stroke="#2bbbd7"/>
<path d="M4 13.5h1" stroke="#2abdd6"/>
<path d="M5 13.5h1" stroke="#27c1d2"/>
<path d="M6 13.5h1" stroke="#26c3d1"/>
<path d="M7 13.5h1" stroke="#24c5cf"/>
<path d="M8 13.5h1" stroke="#23c7cd"/>
<path d="M9 13.5h3" stroke="#23c7ce"/>
<path d="M12 13.5h1" stroke="#23c7cd"/>
<path d="M13 13.5h1" stroke="#24c5cf"/>
<path d="M14 13.5h1" stroke="#26c3d1"/>
<path d="M15 13.5h1" stroke="#27c1d3"/>
<path d="M16 13.5h1" stroke="#28bfd4"/>
<path d="M17 13.5h1" stroke="#2abdd6"/>
<path d="M18 13.5h1" stroke="#2bbbd7"/>
<path d="M19 13.5h1" stroke="#2bbbd6"/>
<path d="M20 13.5h4" stroke="#2db9d8"/>
<path d="M24 13.5h1" stroke="#2bbbd7"/>
<path d="M25 13.5h1" stroke="#2abdd6"/>
<path d="M26 13.5h1" stroke="#27c1d3"/>
<path d="M27 13.5h1" stroke="#23c7cd"/>
<path d="M28 13.5h1" stroke="#21cbca"/>
<path d="M29 13.5h1" stroke="#20cec6"/>
<path d="M30 13.5h1" stroke="#1fd4bf"/>
<path d="M31 13.5h1" stroke="#1fd8b8"/>
<path d="M32 13.5h1" stroke="#23deb0"/>
<path d="M33 13.5h1" stroke="#2be4a3"/>
<path d="M34 13.5h1" stroke="#37e995"/>
<path d="M35 13.5h1" stroke="#47ed86"/>
<path d="M36 13.5h1" stroke="#54f079"/>
<path d="M37 13.5h1" stroke="#63f26d"/>
<path d="M38 13.5h1" stroke="#72f461"/>
<path d="M39 13.5h1" stroke="#80f556"/>
<path d="M40 13.5h1" stroke="#8df54d"/>
<path d="M41 13.5h1" stroke="#96f446"/>
<path d="M42 13.5h1" stroke="#9cf343"/>
<path d="M43 13.5h1" stroke="#a1f340"/>
<path d="M44 13.5h1" stroke="#a6f13e"/>
<path d="M45 13.5h1" stroke="#abf03c"/>
<path d="M46 13.5h1" stroke="#afee3b"/>
<path d="M47 13.5h1" stroke="#b2ee3a"/>
<path d="M48 13.5h5" stroke="#b4ed3a"/>
<path d="M-3 14.5h4" stroke="#33b0de"/>
<path d="M1 14.5h1" stroke="#32b2dc"/>
<path d="M2 14.5h1" stroke="#2eb6d9"/>
<path d="M3 14.5h1" stroke="#2db9d8"/>
<path d="M4 14.5h1" stroke="#2abdd5"/>
<path d="M5 14.5h1" stroke="#27c1d2"/>
<path d="M6 14.5h1" stroke="#26c3d1"/>
<path d="M7 14.5h1" stroke="#24c5cf"/>
<path d="M8 14.5h1" stroke="#23c7cd"/>
<path d="M9 14.5h3" stroke="#23c7ce"/>
<path d="M12 14.5h1" stroke="#23c7cd"/>
<path d="M13 14.5h2" stroke="#24c5cf"/>
<path d="M15 14.5h1" stroke="#26c3d1"/>
<path d="M16 14.5h1" stroke="#27c1d2"/>
<path d="M17 14.5h1" stroke="#28bfd4"/>
<path d="M18 14.5h1" stroke="#2abdd5"/>
<path d="M19 14.5h1" stroke="#2bbbd7"/>
<path d="M20 14.5h3" stroke="#2bbbd6"/>
<path d="M23 14.5h1" stroke="#2bbbd7"/>
<path d="M24 14.5h1" stroke="#2abdd5"/>
<path d="M25 14.5h1" stroke="#27c1d2"/>
<path d="M26 14.5h1" stroke="#24c5cf"/>
<path d="M27 14.5h1" stroke="#22c9cc"/>
<path d="M28 14.5h1" stroke="#20cec5"/>
<path d="M29 14.5h1" stroke="#1fd2c1"/>
<path d="M30 14.5h1" stroke="#1fd7ba"/>
<path d="M31 14.5h1" stroke="#20dbb4"/>
<path d="M32 14.5h1" stroke="#27e1a9"/>
<path d="M33 14.5h1" stroke="#32e79b"/>
<path d="M34 14.5h1" stroke="#40ec8c"/>
<path d="M35 14.5h1" stroke="#4eef80"/>
<path d="M36 14.5h1" stroke="#5cf173"/>
<path d="M37 14.5h1" stroke="#6af367"/>
<path d="M38 14.5h1" stroke="#79f45b"/>
<path d="M39 14.5h1" stroke="#87f551"/>
<path d="M40 14.5h1" stroke="#93f448"/>
<path d="M41 14.5h1" stroke="#9cf343"/>
<path d="M42 14.5h1" stroke="#a1f340"/>
<path d="M43 14.5h1" stroke="#a6f13e"/>
<path d="M44 14.5h1" stroke="#a8f13d"/>
<path d="M45 14.5h1" stroke="#adef3b"/>
<path d="M46 14.5h1" stroke="#b2ee3a"/>
<path d="M47 14.5h6" stroke="#b4ed3a"/>
<path d="M-3 15.5h3" stroke="#35aedf"/>
<path d="M0 15.5h1" stroke="#33b0de"/>
<path d="M1 15.5h1" stroke="#32b2dc"/>
<path d="M2 15.5h1" stroke="#30b4db"/>
<path d="M3 15.5h1" stroke="#2db9d8"/>
<path d="M4 15.5h1" stroke="#2abdd5"/>
<path d="M5 15.5h1" stroke="#28bfd4"/>
<path d="M6 15.5h1" stroke="#26c3d1"/>
<path d="M7 15.5h1" stroke="#24c5cf"/>
<path d="M8 15.5h1" stroke="#24c5d0"/>
<path d="M9 15.5h1" stroke="#23c7cd"/>
<path d="M10 15.5h2" stroke="#23c7ce"/>
<path d="M12 15.5h1" stroke="#23c7cd"/>
<path d="M13 15.5h1" stroke="#24c5d0"/>
<path d="M14 15.5h1" stroke="#24c5cf"/>
<path d="M15 15.5h1" stroke="#26c3d1"/>
<path d="M16 15.5h1" stroke="#27c1d2"/>
<path d="M17 15.5h1" stroke="#28bfd4"/>
<path d="M18 15.5h2" stroke="#2abdd5"/>
<path d="M20 15.5h2" stroke="#2bbbd7"/>
<path d="M22 15.5h2" stroke="#2abdd5"/>
<path d="M24 15.5h1" stroke="#28bfd4"/>
<path d="M25 15.5h1" stroke="#26c3d1"/>
<path d="M26 15.5h1" stroke="#23c7ce"/>
<path d="M27 15.5h1" stroke="#21cdc8"/>
<path d="M28 15.5h1" stroke="#1fd0c3"/>
<path d="M29 15.5h1" stroke="#1fd5bd"/>
<path d="M30 15.5h1" stroke="#20dab6"/>
<path d="M31 15.5h1" stroke="#24dfad"/>
<path d="M32 15.5h1" stroke="#2de5a1"/>
<path d="M33 15.5h1" stroke="#37e995"/>
<path d="M34 15.5h1" stroke="#47ed86"/>
<path d="M35 15.5h1" stroke="#58f176"/>
<path d="M36 15.5h1" stroke="#67f36a"/>
<path d="M37 15.5h1" stroke="#75f45e"/>
<path d="M38 15.5h1" stroke="#83f554"/>
<path d="M39 15.5h1" stroke="#90f44a"/>
<path d="M40 15.5h1" stroke="#99f445"/>
<path d="M41 15.5h1" stroke="#a1f340"/>
<path d="M42 15.5h1" stroke="#a6f13e"/>
<path d="M43 15.5h1" stroke="#a8f13d"/>
<path d="M44 15.5h1" stroke="#adef3b"/>
<path d="M45 15.5h1" stroke="#afee3b"/>
<path d="M46 15.5h1" stroke="#b2ee3a"/>
<path d="M47 15.5h3" stroke="#b4ed3a"/>
<path d="M50 15.5h3" stroke="#b2ee3a"/>
<path d="M-3 16.5h4" stroke="#35aedf"/>
<path d="M1 16.5h1" stroke="#33b0de"/>
<path d="M2 16.5h1" stroke="#30b4db"/>
<path d="M3 16.5h1" stroke="#2db9d8"/>
<path d="M4 16.5h1" stroke="#2abdd5"/>
<path d="M5 16.5h1" stroke="#28bfd4"/>
<path d="M6 16.5h1" stroke="#26c3d1"/>
<path d="M7 16.5h1" stroke="#24c5cf"/>
<path d="M8 16.5h1" stroke="#24c5d0"/>
<path d="M9 16.5h1" stroke="#23c7cd"/>
<path d="M10 16.5h2" stroke="#23c7ce"/>
<path d="M12 16.5h1" stroke="#23c7cd"/>
<path d="M13 16.5h2" stroke="#24c5cf"/>
<path d="M15 16.5h1" stroke="#26c3d1"/>
<path d="M16 16.5h1" stroke="#27c1d2"/>
<path d="M17 16.5h1" stroke="#28bfd4"/>
<path d="M18 16.5h1" stroke="#2abdd6"/>
<path d="M19 16.5h3" stroke="#2abdd5"/>
<path d="M22 16.5h1" stroke="#28bfd3"/>
<path d="M23 16.5h1" stroke="#28bfd4"/>
<path d="M24 16.5h1" stroke="#26c3d1"/>
<path d="M25 16.5h1" stroke="#23c7cd"/>
<path d="M26 16.5h1" stroke="#21cbca"/>
<path d="M27 16.5h1" stroke="#20cec6"/>
<path d="M28 16.5h1" stroke="#1fd4bf"/>
<path d="M29 16.5h1" stroke="#1fd8b8"/>
<path d="M30 16.5h1" stroke="#23deb0"/>
<path d="M31 16.5h1" stroke="#29e2a6"/>
<path d="M32 16.5h1" stroke="#32e79b"/>
<path d="M33 16.5h1" stroke="#40ec8c"/>
<path d="M34 16.5h1" stroke="#51ef7d"/>
<path d="M35 16.5h1" stroke="#5ff270"/>
<path d="M36 16.5h1" stroke="#6ef464"/>
<path d="M37 16.5h1" stroke="#7cf459"/>
<path d="M38 16.5h1" stroke="#8af54f"/>
<path d="M39 16.5h1" stroke="#96f446"/>
<path d="M40 16.5h1" stroke="#9ef341"/>
<path d="M41 16.5h1" stroke="#a3f23f"/>
<path d="M42 16.5h1" stroke="#a8f13d"/>
<path d="M43 16.5h1" stroke="#adef3b"/>
<path d="M44 16.5h1" stroke="#afee3b"/>
<path d="M45 16.5h1" stroke="#b2ee3a"/>
<path d="M46 16.5h1" stroke="#b4ed3a"/>
<path d="M47 16.5h2" stroke="#b7ec39"/>
<path d="M49 16.5h1" stroke="#b4ed3a"/>
<path d="M50 16.5h3" stroke="#b2ee3a"/>
<path d="M-3 17.5h4" stroke="#35aedf"/>
<path d="M1 17.5h1" stroke="#33b0de"/>
<path d="M2 17.5h1" stroke="#30b4db"/>
<path d="M3 17.5h1" stroke="#2db9d8"/>
<path d="M4 17.5h1" stroke="#2abdd5"/>
<path d="M5 17.5h1" stroke="#28bfd4"/>
<path d="M6 17.5h1" stroke="#26c3d1"/>
<path d="M7 17.5h1" stroke="#24c5cf"/>
<path d="M8 17.5h1" stroke="#24c5d0"/>
<path d="M9 17.5h1" stroke="#23c7cd"/>
<path d="M10 17.5h1" stroke="#23c7ce"/>
<path d="M11 17.5h2" stroke="#23c7cd"/>
<path d="M13 17.5h1" stroke="#24c5cf"/>
<path d="M14 17.5h2" stroke="#26c3d1"/>
<path d="M16 17.5h1" stroke="#27c1d2"/>
<path d="M17 17.5h2" stroke="#28bfd4"/>
<path d="M19 17.5h1" stroke="#2abdd6"/>
<path d="M20 17.5h1" stroke="#28bfd3"/>
<path d="M21 17.5h1" stroke="#28bfd4"/>
<path d="M22 17.5h1" stroke="#27c1d2"/>
<path d="M23 17.5h1" stroke="#26c3d1"/>
<path d="M24 17.5h1" stroke="#24c5d0"/>
<path d="M25 17.5h1" stroke="#22c9cc"/>
<path d="M26 17.5h1" stroke="#20cec5"/>
<path d="M27 17.5h1" stroke="#1fd2c1"/>
<path d="M28 17.5h1" stroke="#1fd7ba"/>
<path d="M29 17.5h1" stroke="#21dcb2"/>
<path d="M30 17.5h1" stroke="#27e1a9"/>
<path d="M31 17.5h1" stroke="#2fe69e"/>
<path d="M32 17.5h1" stroke="#3aea92"/>
<path d="M33 17.5h1" stroke="#4aee83"/>
<path d="M34 17.5h1" stroke="#5cf173"/>
<path d="M35 17.5h1" stroke="#6af367"/>
<path d="M36 17.5h1" stroke="#7cf459"/>
<path d="M37 17.5h1" stroke="#8af54f"/>
<path d="M38 17.5h1" stroke="#93f448"/>
<path d="M39 17.5h1" stroke="#9cf343"/>
<path d="M40 17.5h1" stroke="#a3f23f"/>
<path d="M41 17.5h1" stroke="#a8f13d"/>
<path d="M42 17.5h1" stroke="#adef3b"/>
<path d="M43 17.5h1" stroke="#afee3b"/>
<path d="M44 17.5h1" stroke="#b2ee3a"/>
<path d="M45 17.5h1" stroke="#b4ed3a"/>
<path d="M46 17.5h3" stroke="#b7ec39"/>
<path d="M49 17.5h4" stroke="#b4ed3a"/>
<path d="M-3 18.5h4" stroke="#35aedf"/>
<path d="M1 18.5h1" stroke="#32b2dc"/>
<path d="M2 18.5h1" stroke="#30b4db"/>
<path d="M3 18.5h1" stroke="#2db9d8"/>
<path d="M4 18.5h1" stroke="#2abdd5"/>
<path d="M5 18.5h1" stroke="#27c1d2"/>
<path d="M6 18.5h1" stroke="#26c3d1"/>
<path d="M7 18.5h1" stroke="#24c5cf"/>
<path d="M8 18.5h2" stroke="#23c7cd"/>
<path d="M10 18.5h1" stroke="#23c7ce"/>
<path d="M11 18.5h2" stroke="#23c7cd"/>
<path d="M13 18.5h1" stroke="#24c5cf"/>
<path d="M14 18.5h1" stroke="#26c3d1"/>
<path d="M15 18.5h1" stroke="#27c1d3"/>
<path d="M16 18.5h1" stroke="#27c1d2"/>
<path d="M17 18.5h4" stroke="#28bfd4"/>
<path d="M21 18.5h1" stroke="#27c1d2"/>
<path d="M22 18.5h1" stroke="#26c3d1"/>
<path d="M23 18.5h1" stroke="#24c5cf"/>
<path d="M24 18.5h1" stroke="#22c9cc"/>
<path d="M25 18.5h1" stroke="#21cdc8"/>
<path d="M26 18.5h1" stroke="#1fd2c1"/>
<path d="M27 18.5h1" stroke="#1fd5bd"/>
<path d="M28 18.5h1" stroke="#20dbb4"/>
<path d="M29 18.5h1" stroke="#25e0ab"/>
<path d="M30 18.5h1" stroke="#2de5a1"/>
<path d="M31 18.5h1" stroke="#37e995"/>
<path d="M32 18.5h1" stroke="#43ec89"/>
<path d="M33 18.5h1" stroke="#54f079"/>
<path d="M34 18.5h1" stroke="#63f26d"/>
<path d="M35 18.5h1" stroke="#75f45e"/>
<path d="M36 18.5h1" stroke="#87f551"/>
<path d="M37 18.5h1" stroke="#93f448"/>
<path d="M38 18.5h1" stroke="#9cf343"/>
<path d="M39 18.5h1" stroke="#a1f340"/>
<path d="M40 18.5h1" stroke="#a8f13d"/>
<path d="M41 18.5h1" stroke="#adef3b"/>
<path d="M42 18.5h1" stroke="#afee3b"/>
<path d="M43 18.5h1" stroke="#b4ed3a"/>
<path d="M44 18.5h2" stroke="#b7ec39"/>
<path d="M46 18.5h1" stroke="#b9ea39"/>
<path d="M47 18.5h2" stroke="#b7ec39"/>
<path d="M49 18.5h4" stroke="#b4ed3a"/>
<path d="M-3 19.5h3" stroke="#35aedf"/>
<path d="M0 19.5h1" stroke="#33b0de"/>
<path d="M1 19.5h1" stroke="#32b2dc"/>
<path d="M2 19.5h1" stroke="#2eb6d9"/>
<path d="M3 19.5h1" stroke="#2db9d8"/>
<path d="M4 19.5h1" stroke="#2abdd6"/>
<path d="M5 19.5h1" stroke="#27c1d2"/>
<path d="M6 19.5h1" stroke="#26c3d1"/>
<path d="M7 19.5h1" stroke="#24c5cf"/>
<path d="M8 19.5h1" stroke="#23c7cd"/>
<path d="M9 19.5h2" stroke="#23c7ce"/>
<path d="M11 19.5h2" stroke="#23c7cd"/>
<path d="M13 19.5h1" stroke="#24c5cf"/>
<path d="M14 19.5h1" stroke="#26c3d1"/>
<path d="M15 19.5h1" stroke="#27c1d3"/>
<path d="M16 19.5h1" stroke="#27c1d2"/>
<path d="M17 19.5h3" stroke="#28bfd4"/>
<path d="M20 19.5h1" stroke="#27c1d2"/>
<path d="M21 19.5h1" stroke="#26c3d1"/>
<path d="M22 19.5h1" stroke="#24c5cf"/>
<path d="M23 19.5h1" stroke="#22c9cb"/>
<path d="M24 19.5h1" stroke="#21cdc8"/>
<path d="M25 19.5h1" stroke="#1fd0c3"/>
<path d="M26 19.5h1" stroke="#1fd5bd"/>
<path d="M27 19.5h1" stroke="#20dab6"/>
<path d="M28 19.5h1" stroke="#23deb0"/>
<path d="M29 19.5h1" stroke="#29e2a6"/>
<path d="M30 19.5h1" stroke="#32e79b"/>
<path d="M31 19.5h1" stroke="#40ec8c"/>
<path d="M32 19.5h1" stroke="#4eef80"/>
<path d="M33 19.5h1" stroke="#5cf173"/>
<path d="M34 19.5h1" stroke="#6ef464"/>
<path d="M35 19.5h1" stroke="#80f556"/>
<path d="M36 19.5h1" stroke="#8df54d"/>
<path d="M37 19.5h1" stroke="#99f445"/>
<path d="M38 19.5h1" stroke="#a1f340"/>
<path d="M39 19.5h1" stroke="#a6f13e"/>
<path d="M40 19.5h1" stroke="#abf03c"/>
<path d="M41 19.5h1" stroke="#afee3b"/>
<path d="M42 19.5h1" stroke="#b4ed3a"/>
<path d="M43 19.5h1" stroke="#b7ec39"/>
<path d="M44 19.5h4" stroke="#b9ea39"/>
<path d="M48 19.5h1" stroke="#b7ec39"/>
<path d="M49 19.5h4" stroke="#b4ed3a"/>
<path d="M-3 20.5h3" stroke="#35aedf"/>
<path d="M0 20.5h1" stroke="#33b0de"/>
<path d="M1 20.5h1" stroke="#32b2dc"/>
<path d="M2 20.5h1" stroke="#2eb6d9"/>
<path d="M3 20.5h1" stroke="#2bbbd7"/>
<path d="M4 20.5h1" stroke="#28bfd4"/>
<path d="M5 20.5h1" stroke="#27c1d3"/>
<path d="M6 20.5h1" stroke="#24c5cf"/>
<path d="M7 20.5h1" stroke="#24c5d0"/>
<path d="M8 20.5h4" stroke="#23c7ce"/>
<path d="M12 20.5h1" stroke="#23c7cd"/>
<path d="M13 20.5h1" stroke="#24c5cf"/>
<path d="M14 20.5h2" stroke="#26c3d1"/>
<path d="M16 20.5h1" stroke="#27c1d3"/>
<path d="M17 20.5h3" stroke="#27c1d2"/>
<path d="M20 20.5h1" stroke="#27c1d3"/>
<path d="M21 20.5h1" stroke="#26c3d1"/>
<path d="M22 20.5h1" stroke="#23c7cd"/>
<path d="M23 20.5h1" stroke="#21cbca"/>
<path d="M24 20.5h1" stroke="#20cec6"/>
<path d="M25 20.5h1" stroke="#1fd4bf"/>
<path d="M26 20.5h1" stroke="#1fd8b8"/>
<path d="M27 20.5h1" stroke="#21dcb2"/>
<path d="M28 20.5h1" stroke="#27e1a9"/>
<path d="M29 20.5h1" stroke="#2fe69e"/>
<path d="M30 20.5h1" stroke="#3aea92"/>
<path d="M31 20.5h1" stroke="#47ed86"/>
<path d="M32 20.5h1" stroke="#54f079"/>
<path d="M33 20.5h1" stroke="#67f36a"/>
<path d="M34 20.5h1" stroke="#75f45e"/>
<path d="M35 20.5h1" stroke="#87f551"/>
<path d="M36 20.5h1" stroke="#93f448"/>
<path d="M37 20.5h1" stroke="#9ef341"/>
<path d="M38 20.5h1" stroke="#a6f13e"/>
<path d="M39 20.5h1" stroke="#abf03c"/>
<path d="M40 20.5h1" stroke="#afee3b"/>
<path d="M41 20.5h1" stroke="#b2ee3a"/>
<path d="M42 20.5h1" stroke="#b7ec39"/>
<path d="M43 20.5h1" stroke="#b9ea39"/>
<path d="M44 20.5h3" stroke="#bbe939"/>
<path d="M47 20.5h1" stroke="#b9ea39"/>
<path d="M48 20.5h1" stroke="#b7ec39"/>
<path d="M49 20.5h1" stroke="#b4ed3a"/>
<path d="M50 20.5h3" stroke="#b2ee3a"/>
<path d="M-3 21.5h4" stroke="#33b0de"/>
<path d="M1 21.5h1" stroke="#30b4db"/>
<path d="M2 21.5h1" stroke="#2db9d8"/>
<path d="M3 21.5h1" stroke="#2abdd5"/>
<path d="M4 21.5h1" stroke="#28bfd4"/>
<path d="M5 21.5h1" stroke="#26c3d1"/>
<path d="M6 21.5h1" stroke="#24c5cf"/>
<path d="M7 21.5h1" stroke="#23c7cd"/>
<path d="M8 21.5h1" stroke="#23c7ce"/>
<path d="M9 21.5h2" stroke="#22c9cb"/>
<path d="M11 21.5h1" stroke="#23c7ce"/>
<path d="M12 21.5h1" stroke="#23c7cd"/>
<path d="M13 21.5h2" stroke="#24c5cf"/>
<path d="M15 21.5h1" stroke="#26c3d1"/>
<path d="M16 21.5h4" stroke="#27c1d3"/>
<path d="M20 21.5h1" stroke="#26c3d1"/>
<path d="M21 21.5h1" stroke="#24c5cf"/>
<path d="M22 21.5h1" stroke="#22c9cc"/>
<path d="M23 21.5h1" stroke="#21cdc8"/>
<path d="M24 21.5h1" stroke="#1fd2c1"/>
<path d="M25 21.5h1" stroke="#1fd7ba"/>
<path d="M26 21.5h1" stroke="#20dbb4"/>
<path d="M27 21.5h1" stroke="#25e0ab"/>
<path d="M28 21.5h1" stroke="#2de5a1"/>
<path d="M29 21.5h1" stroke="#35e898"/>
<path d="M30 21.5h1" stroke="#40ec8c"/>
<path d="M31 21.5h1" stroke="#4eef80"/>
<path d="M32 21.5h1" stroke="#5cf173"/>
<path d="M33 21.5h1" stroke="#6ef464"/>
<path d="M34 21.5h1" stroke="#7cf459"/>
<path d="M35 21.5h1" stroke="#8df54d"/>
<path d="M36 21.5h1" stroke="#99f445"/>
<path d="M37 21.5h1" stroke="#a1f340"/>
<path d="M38 21.5h1" stroke="#a8f13d"/>
<path d="M39 21.5h1" stroke="#adef3b"/>
<path d="M40 21.5h1" stroke="#b2ee3a"/>
<path d="M41 21.5h1" stroke="#b4ed3a"/>
<path d="M42 21.5h1" stroke="#b9ea39"/>
<path d="M43 21.5h4" stroke="#bbe939"/>
<path d="M47 21.5h1" stroke="#b9ea39"/>
<path d="M48 21.5h1" stroke="#b7ec39"/>
<path d="M49 21.5h1" stroke="#b4ed3a"/>
<path d="M50 21.5h3" stroke="#b2ee3a"/>
<path d="M-3 22.5h4" stroke="#32b2dc"/>
<path d="M1 22.5h1" stroke="#2eb6d9"/>
<path d="M2 22.5h1" stroke="#2db9d8"/>
<path d="M3 22.5h1" stroke="#2abdd5"/>
<path d="M4 22.5h1" stroke="#27c1d2"/>
<path d="M5 22.5h1" stroke="#26c3d1"/>
<path d="M6 22.5h1" stroke="#23c7cd"/>
<path d="M7 22.5h1" stroke="#23c7ce"/>
<path d="M8 22.5h3" stroke="#22c9cc"/>
<path d="M11 22.5h1" stroke="#22c9cb"/>
<path d="M12 22.5h1" stroke="#23c7ce"/>
<path d="M13 22.5h1" stroke="#24c5d0"/>
<path d="M14 22.5h1" stroke="#24c5cf"/>
<path d="M15 22.5h5" stroke="#26c3d1"/>
<path d="M20 22.5h1" stroke="#24c5cf"/>
<path d="M21 22.5h1" stroke="#23c7ce"/>
<path d="M22 22.5h1" stroke="#21cbca"/>
<path d="M23 22.5h1" stroke="#20cec6"/>
<path d="M24 22.5h1" stroke="#1fd4bf"/>
<path d="M25 22.5h1" stroke="#1fd8b8"/>
<path d="M26 22.5h1" stroke="#23deb0"/>
<path d="M27 22.5h1" stroke="#29e2a6"/>
<path d="M28 22.5h1" stroke="#32e79b"/>
<path d="M29 22.5h1" stroke="#3aea92"/>
<path d="M30 22.5h1" stroke="#47ed86"/>
<path d="M31 22.5h1" stroke="#54f079"/>
<path d="M32 22.5h1" stroke="#67f36a"/>
<path d="M33 22.5h1" stroke="#75f45e"/>
<path d="M34 22.5h1" stroke="#87f551"/>
<path d="M35 22.5h1" stroke="#93f448"/>
<path d="M36 22.5h1" stroke="#9ef341"/>
<path d="M37 22.5h1" stroke="#a6f13e"/>
<path d="M38 22.5h1" stroke="#abf03c"/>
<path d="M39 22.5h1" stroke="#afee3b"/>
<path d="M40 22.5h1" stroke="#b4ed3a"/>
<path d="M41 22.5h1" stroke="#b9ea39"/>
<path d="M42 22.5h2" stroke="#bbe939"/>
<path d="M44 22.5h2" stroke="#bee839"/>
<path d="M46 22.5h1" stroke="#bbe939"/>
<path d="M47 22.5h1" stroke="#b9ea39"/>
<path d="M48 22.5h1" stroke="#b4ed3a"/>
<path d="M49 22.5h1" stroke="#afee3b"/>
<path d="M50 22.5h3" stroke="#adef3b"/>
<path d="M-3 23.5h3" stroke="#32b2dc"/>
<path d="M0 23.5h1" stroke="#30b4db"/>
<path d="M1 23.5h1" stroke="#2db9d8"/>
<path d="M2 23.5h1" stroke="#2bbbd7"/>
<path d="M3 23.5h1" stroke="#28bfd4"/>
<path d="M4 23.5h1" stroke="#26c3d1"/>
<path d="M5 23.5h1" stroke="#24c5cf"/>
<path d="M6 23.5h1" stroke="#23c7ce"/>
<path d="M7 23.5h5" stroke="#22c9cc"/>
<path d="M12 23.5h1" stroke="#23c7ce"/>
<path d="M13 23.5h1" stroke="#23c7cd"/>
<path d="M14 23.5h2" stroke="#24c5cf"/>
<path d="M16 23.5h3" stroke="#26c3d1"/>
<path d="M19 23.5h1" stroke="#24c5cf"/>
<path d="M20 23.5h1" stroke="#23c7cd"/>
<path d="M21 23.5h1" stroke="#22c9cc"/>
<path d="M22 23.5h1" stroke="#21cdc8"/>
<path d="M23 23.5h1" stroke="#1fd0c3"/>
<path d="M24 23.5h1" stroke="#1fd5bd"/>
<path d="M25 23.5h1" stroke="#20dab6"/>
<path d="M26 23.5h1" stroke="#24dfad"/>
<path d="M27 23.5h1" stroke="#2de5a1"/>
<path d="M28 23.5h1" stroke="#37e995"/>
<path d="M29 23.5h1" stroke="#40ec8c"/>
<path d="M30 23.5h1" stroke="#4eef80"/>
<path d="M31 23.5h1" stroke="#5cf173"/>
<path d="M32 23.5h1" stroke="#6ef464"/>
<path d="M33 23.5h1" stroke="#80f556"/>
<path d="M34 23.5h1" stroke="#8df54d"/>
<path d="M35 23.5h1" stroke="#99f445"/>
<path d="M36 23.5h1" stroke="#a1f340"/>
<path d="M37 23.5h1" stroke="#a8f13d"/>
<path d="M38 23.5h1" stroke="#adef3b"/>
<path d="M39 23.5h1" stroke="#b2ee3a"/>
<path d="M40 23.5h1" stroke="#b7ec39"/>
<path d="M41 23.5h1" stroke="#bbe939"/>
<path d="M42 23.5h4" stroke="#bee839"/>
<path d="M46 23.5h1" stroke="#bbe939"/>
<path d="M47 23.5h1" stroke="#b7ec39"/>
<path d="M48 23.5h1" stroke="#b2ee3a"/>
<path d="M49 23.5h1" stroke="#adef3b"/>
<path d="M50 23.5h3" stroke="#a8f13d"/>
<path d="M-3 24.5h3" stroke="#30b4db"/>
<path d="M0 24.5h1" stroke="#2eb6d9"/>
<path d="M1 24.5h1" stroke="#2bbbd6"/>
<path d="M2 24.5h1" stroke="#2abdd5"/>
<path d="M3 24.5h1" stroke="#27c1d2"/>
<path d="M4 24.5h1" stroke="#26c3d1"/>
<path d="M5 24.5h1" stroke="#23c7cd"/>
<path d="M6 24.5h1" stroke="#22c9cb"/>
<path d="M7 24.5h1" stroke="#22c9cc"/>
<path d="M8 24.5h2" stroke="#21cbca"/>
<path d="M10 24.5h2" stroke="#22c9cc"/>
<path d="M12 24.5h1" stroke="#23c7ce"/>
<path d="M13 24.5h1" stroke="#23c7cd"/>
<path d="M14 24.5h5" stroke="#24c5cf"/>
<path d="M19 24.5h1" stroke="#23c7cd"/>
<path d="M20 24.5h1" stroke="#22c9cc"/>
<path d="M21 24.5h1" stroke="#21cbca"/>
<path d="M22 24.5h1" stroke="#20cec6"/>
<path d="M23 24.5h1" stroke="#1fd2c1"/>
<path d="M24 24.5h1" stroke="#1fd7ba"/>
<path d="M25 24.5h1" stroke="#20dbb4"/>
<path d="M26 24.5h1" stroke="#27e1a9"/>
<path d="M27 24.5h1" stroke="#2fe69e"/>
<path d="M28 24.5h1" stroke="#3aea92"/>
<path d="M29 24.5h1" stroke="#47ed86"/>
<path d="M30 24.5h1" stroke="#54f079"/>
<path d="M31 24.5h1" stroke="#63f26d"/>
<path d="M32 24.5h1" stroke="#75f45e"/>
<path d="M33 24.5h1" stroke="#87f551"/>
<path d="M34 24.5h1" stroke="#93f448"/>
<path d="M35 24.5h1" stroke="#9ef341"/>
<path d="M36 24.5h1" stroke="#a6f13e"/>
<path d="M37 24.5h1" stroke="#abf03c"/>
<path d="M38 24.5h1" stroke="#afee3b"/>
<path d="M39 24.5h1" stroke="#b4ed3a"/>
<path d="M40 24.5h1" stroke="#b9ea39"/>
<path d="M41 24.5h1" stroke="#bbe939"/>
<path d="M42 24.5h3" stroke="#c0e739"/>
<path d="M45 24.5h1" stroke="#bee839"/>
<path d="M46 24.5h1" stroke="#bbe939"/>
<path d="M47 24.5h1" stroke="#b7ec39"/>
<path d="M48 24.5h1" stroke="#afee3b"/>
<path d="M49 24.5h1" stroke="#a8f13d"/>
<path d="M50 24.5h3" stroke="#a3f23f"/>
<path d="M-3 25.5h3" stroke="#2eb6d9"/>
<path d="M0 25.5h1" stroke="#2db9d8"/>
<path d="M1 25.5h1" stroke="#2bbbd7"/>
<path d="M2 25.5h1" stroke="#28bfd4"/>
<path d="M3 25.5h1" stroke="#27c1d3"/>
<path d="M4 25.5h1" stroke="#24c5cf"/>
<path d="M5 25.5h1" stroke="#23c7cd"/>
<path d="M6 25.5h2" stroke="#22c9cc"/>
<path d="M8 25.5h2" stroke="#21cbca"/>
<path d="M10 25.5h2" stroke="#22c9cc"/>
<path d="M12 25.5h1" stroke="#23c7ce"/>
<path d="M13 25.5h1" stroke="#23c7cd"/>
<path d="M14 25.5h1" stroke="#24c5d0"/>
<path d="M15 25.5h2" stroke="#24c5cf"/>
<path d="M17 25.5h1" stroke="#24c5d0"/>
<path d="M18 25.5h1" stroke="#23c7ce"/>
<path d="M19 25.5h1" stroke="#22c9cc"/>
<path d="M20 25.5h1" stroke="#21cbca"/>
<path d="M21 25.5h1" stroke="#21cdc8"/>
<path d="M22 25.5h1" stroke="#1fd0c3"/>
<path d="M23 25.5h1" stroke="#1fd4bf"/>
<path d="M24 25.5h1" stroke="#1fd8b8"/>
<path d="M25 25.5h1" stroke="#23deb0"/>
<path d="M26 25.5h1" stroke="#29e2a6"/>
<path d="M27 25.5h1" stroke="#32e79b"/>
<path d="M28 25.5h1" stroke="#3deb8f"/>
<path d="M29 25.5h1" stroke="#4aee83"/>
<path d="M30 25.5h1" stroke="#5cf173"/>
<path d="M31 25.5h1" stroke="#6af367"/>
<path d="M32 25.5h1" stroke="#7cf459"/>
<path d="M33 25.5h1" stroke="#8df54d"/>
<path d="M34 25.5h1" stroke="#99f445"/>
<path d="M35 25.5h1" stroke="#a1f340"/>
<path d="M36 25.5h1" stroke="#a8f13d"/>
<path d="M37 25.5h1" stroke="#adef3b"/>
<path d="M38 25.5h1" stroke="#b2ee3a"/>
<path d="M39 25.5h1" stroke="#b7ec39"/>
<path d="M40 25.5h1" stroke="#bbe939"/>
<path d="M41 25.5h1" stroke="#c0e739"/>
<path d="M42 25.5h3" stroke="#c2e639"/>
<path d="M45 25.5h1" stroke="#bee839"/>
<path d="M46 25.5h1" stroke="#bbe939"/>
<path d="M47 25.5h1" stroke="#b4ed3a"/>
<path d="M48 25.5h1" stroke="#adef3b"/>
<path d="M49 25.5h1" stroke="#a6f13e"/>
<path d="M50 25.5h3" stroke="#a1f340"/>
<path d="M-3 26.5h4" stroke="#2db9d8"/>
<path d="M1 26.5h1" stroke="#2abdd5"/>
<path d="M2 26.5h1" stroke="#28bfd4"/>
<path d="M3 26.5h1" stroke="#27c1d3"/>
<path d="M4 26.5h1" stroke="#24c5cf"/>
<path d="M5 26.5h1" stroke="#23c7ce"/>
<path d="M6 26.5h1" stroke="#22c9cc"/>
<path d="M7 26.5h1" stroke="#21cbc9"/>
<path d="M8 26.5h2" stroke="#21cbca"/>
<path d="M10 26.5h2" stroke="#22c9cc"/>
<path d="M12 26.5h1" stroke="#23c7ce"/>
<path d="M13 26.5h4" stroke="#23c7cd"/>
<path d="M17 26.5h1" stroke="#23c7ce"/>
<path d="M18 26.5h1" stroke="#22c9cc"/>
<path d="M19 26.5h1" stroke="#21cbca"/>
<path d="M20 26.5h1" stroke="#21cdc8"/>
<path d="M21 26.5h1" stroke="#1fd0c3"/>
<path d="M22 26.5h1" stroke="#1fd2c1"/>
<path d="M23 26.5h1" stroke="#1fd7ba"/>
<path d="M24 26.5h1" stroke="#20dab6"/>
<path d="M25 26.5h1" stroke="#24dfad"/>
<path d="M26 26.5h1" stroke="#2be4a3"/>
<path d="M27 26.5h1" stroke="#35e898"/>
<path d="M28 26.5h1" stroke="#40ec8c"/>
<path d="M29 26.5h1" stroke="#4eef80"/>
<path d="M30 26.5h1" stroke="#5ff270"/>
<path d="M31 26.5h1" stroke="#6ef464"/>
<path d="M32 26.5h1" stroke="#80f556"/>
<path d="M33 26.5h1" stroke="#90f44a"/>
<path d="M34 26.5h1" stroke="#9cf343"/>
<path d="M35 26.5h1" stroke="#a6f13e"/>
<path d="M36 26.5h1" stroke="#abf03c"/>
<path d="M37 26.5h1" stroke="#b2ee3a"/>
<path d="M38 26.5h1" stroke="#b7ec39"/>
<path d="M39 26.5h1" stroke="#bbe939"/>
<path d="M40 26.5h1" stroke="#bee839"/>
<path d="M41 26.5h1" stroke="#c2e639"/>
<path d="M42 26.5h2" stroke="#c5e439"/>
<path d="M44 26.5h1" stroke="#c2e639"/>
<path d="M45 26.5h1" stroke="#c0e739"/>
<path d="M46 26.5h1" stroke="#bbe939"/>
<path d="M47 26.5h1" stroke="#b4ed3a"/>
<path d="M48 26.5h1" stroke="#adef3b"/>
<path d="M49 26.5h1" stroke="#a3f23f"/>
<path d="M50 26.5h3" stroke="#a1f340"/>
<path d="M-3 27.5h4" stroke="#2db9d8"/>
<path d="M1 27.5h1" stroke="#2abdd5"/>
<path d="M2 27.5h1" stroke="#28bfd4"/>
<path d="M3 27.5h1" stroke="#27c1d3"/>
<path d="M4 27.5h1" stroke="#24c5cf"/>
<path d="M5 27.5h1" stroke="#23c7cd"/>
<path d="M6 27.5h2" stroke="#22c9cc"/>
<path d="M8 27.5h2" stroke="#21cbca"/>
<path d="M10 27.5h1" stroke="#22c9cc"/>
<path d="M11 27.5h1" stroke="#22c9cb"/>
<path d="M12 27.5h1" stroke="#23c7ce"/>
<path d="M13 27.5h3" stroke="#23c7cd"/>
<path d="M16 27.5h1" stroke="#22c9cb"/>
<path d="M17 27.5h1" stroke="#22c9cc"/>
<path d="M18 27.5h1" stroke="#21cbca"/>
<path d="M19 27.5h1" stroke="#21cdc8"/>
<path d="M20 27.5h1" stroke="#1fd0c3"/>
<path d="M21 27.5h1" stroke="#1fd2c1"/>
<path d="M22 27.5h1" stroke="#1fd4bf"/>
<path d="M23 27.5h1" stroke="#1fd8b8"/>
<path d="M24 27.5h1" stroke="#20dbb4"/>
<path d="M25 27.5h1" stroke="#25e0ab"/>
<path d="M26 27.5h1" stroke="#2de5a1"/>
<path d="M27 27.5h1" stroke="#37e995"/>
<path d="M28 27.5h1" stroke="#43ec89"/>
<path d="M29 27.5h1" stroke="#51ef7d"/>
<path d="M30 27.5h1" stroke="#63f26d"/>
<path d="M31 27.5h1" stroke="#72f461"/>
<path d="M32 27.5h1" stroke="#83f554"/>
<path d="M33 27.5h1" stroke="#93f448"/>
<path d="M34 27.5h1" stroke="#a1f340"/>
<path d="M35 27.5h1" stroke="#a8f13d"/>
<path d="M36 27.5h1" stroke="#afee3b"/>
<path d="M37 27.5h1" stroke="#b4ed3a"/>
<path d="M38 27.5h1" stroke="#b9ea39"/>
<path d="M39 27.5h1" stroke="#bee839"/>
<path d="M40 27.5h1" stroke="#c0e739"/>
<path d="M41 27.5h4" stroke="#c5e439"/>
<path d="M45 27.5h1" stroke="#c0e739"/>
<path d="M46 27.5h1" stroke="#bbe939"/>
<path d="M47 27.5h1" stroke="#b4ed3a"/>
<path d="M48 27.5h1" stroke="#adef3b"/>
<path d="M49 27.5h1" stroke="#a3f23f"/>
<path d="M50 27.5h3" stroke="#9ef341"/>
<path d="M-3 28.5h4" stroke="#2db9d8"/>
<path d="M1 28.5h1" stroke="#2abdd5"/>
<path d="M2 28.5h1" stroke="#28bfd4"/>
<path d="M3 28.5h1" stroke="#27c1d3"/>
<path d="M4 28.5h1" stroke="#24c5cf"/>
<path d="M5 28.5h1" stroke="#23c7cd"/>
<path d="M6 28.5h2" stroke="#22c9cc"/>
<path d="M8 28.5h1" stroke="#21cbc9"/>
<path d="M9 28.5h2" stroke="#22c9cc"/>
<path d="M11 28.5h1" stroke="#23c7ce"/>
<path d="M12 28.5h3" stroke="#23c7cd"/>
<path d="M15 28.5h1" stroke="#23c7ce"/>
<path d="M16 28.5h1" stroke="#22c9cc"/>
<path d="M17 28.5h1" stroke="#21cbca"/>
<path d="M18 28.5h1" stroke="#21cdc8"/>
<path d="M19 28.5h1" stroke="#20cec6"/>
<path d="M20 28.5h1" stroke="#1fd0c3"/>
<path d="M21 28.5h1" stroke="#1fd4bf"/>
<path d="M22 28.5h1" stroke="#1fd5bd"/>
<path d="M23 28.5h1" stroke="#1fd8b8"/>
<path d="M24 28.5h1" stroke="#21dcb2"/>
<path d="M25 28.5h1" stroke="#25e0ab"/>
<path d="M26 28.5h1" stroke="#2de5a1"/>
<path d="M27 28.5h1" stroke="#37e995"/>
<path d="M28 28.5h1" stroke="#43ec89"/>
<path d="M29 28.5h1" stroke="#54f079"/>
<path d="M30 28.5h1" stroke="#63f26d"/>
<path d="M31 28.5h1" stroke="#75f45e"/>
<path d="M32 28.5h1" stroke="#87f551"/>
<path d="M33 28.5h1" stroke="#96f446"/>
<path d="M34 28.5h1" stroke="#a1f340"/>
<path d="M35 28.5h1" stroke="#abf03c"/>
<path d="M36 28.5h1" stroke="#afee3b"/>
<path d="M37 28.5h1" stroke="#b7ec39"/>
<path d="M38 28.5h1" stroke="#bbe939"/>
<path d="M39 28.5h1" stroke="#bee839"/>
<path d="M40 28.5h1" stroke="#c2e639"/>
<path d="M41 28.5h1" stroke="#c5e439"/>
<path d="M42 28.5h2" stroke="#c7e339"/>
<path d="M44 28.5h1" stroke="#c5e439"/>
<path d="M45 28.5h1" stroke="#c0e739"/>
<path d="M46 28.5h1" stroke="#bbe939"/>
<path d="M47 28.5h1" stroke="#b4ed3a"/>
<path d="M48 28.5h1" stroke="#adef3b"/>
<path d="M49 28.5h1" stroke="#a3f23f"/>
<path d="M50 28.5h3" stroke="#9ef341"/>
<path d="M-3 29.5h4" stroke="#2db9d8"/>
<path d="M1 29.5h1" stroke="#2bbbd7"/>
<path d="M2 29.5h1" stroke="#28bfd4"/>
<path d="M3 29.5h1" stroke="#27c1d2"/>
<path d="M4 29.5h1" stroke="#26c3d1"/>
<path d="M5 29.5h1" stroke="#23c7cd"/>
<path d="M6 29.5h1" stroke="#22c9cb"/>
<path d="M7 29.5h4" stroke="#22c9cc"/>
<path d="M11 29.5h1" stroke="#23c7ce"/>
<path d="M12 29.5h3" stroke="#23c7cd"/>
<path d="M15 29.5h1" stroke="#23c7ce"/>
<path d="M16 29.5h1" stroke="#22c9cc"/>
<path d="M17 29.5h1" stroke="#21cdc8"/>
<path d="M18 29.5h1" stroke="#20cec5"/>
<path d="M19 29.5h1" stroke="#1fd0c3"/>
<path d="M20 29.5h1" stroke="#1fd2c1"/>
<path d="M21 29.5h1" stroke="#1fd4bf"/>
<path d="M22 29.5h1" stroke="#1fd7ba"/>
<path d="M23 29.5h1" stroke="#20dab6"/>
<path d="M24 29.5h1" stroke="#21dcb2"/>
<path d="M25 29.5h1" stroke="#25e0ab"/>
<path d="M26 29.5h1" stroke="#2de5a1"/>
<path d="M27 29.5h1" stroke="#37e995"/>
<path d="M28 29.5h1" stroke="#47ed86"/>
<path d="M29 29.5h1" stroke="#54f079"/>
<path d="M30 29.5h1" stroke="#63f26d"/>
<path d="M31 29.5h1" stroke="#75f45e"/>
<path d="M32 29.5h1" stroke="#87f551"/>
<path d="M33 29.5h1" stroke="#96f446"/>
<path d="M34 29.5h1" stroke="#a3f23f"/>
<path d="M35 29.5h1" stroke="#abf03c"/>
<path d="M36 29.5h1" stroke="#b2ee3a"/>
<path d="M37 29.5h1" stroke="#b7ec39"/>
<path d="M38 29.5h1" stroke="#bbe939"/>
<path d="M39 29.5h1" stroke="#c0e739"/>
<path d="M40 29.5h1" stroke="#c2e639"/>
<path d="M41 29.5h1" stroke="#c5e439"/>
<path d="M42 29.5h2" stroke="#c7e339"/>
<path d="M44 29.5h1" stroke="#c5e439"/>
<path d="M45 29.5h1" stroke="#c2e639"/>
<path d="M46 29.5h1" stroke="#bbe939"/>
<path d="M47 29.5h1" stroke="#b4ed3a"/>
<path d="M48 29.5h1" stroke="#adef3b"/>
<path d="M49 29.5h1" stroke="#a3f23f"/>
<path d="M50 29.5h3" stroke="#9ef341"/>
<path d="M-3 30.5h3" stroke="#2eb6d9"/>
<path d="M0 30.5h1" stroke="#2db9d8"/>
<path d="M1 30.5h1" stroke="#2bbbd6"/>
<path d="M2 30.5h1" stroke="#2abdd5"/>
<path d="M3 30.5h1" stroke="#27c1d2"/>
<path d="M4 30.5h1" stroke="#26c3d1"/>
<path d="M5 30.5h1" stroke="#24c5cf"/>
<path d="M6 30.5h1" stroke="#23c7ce"/>
<path d="M7 30.5h4" stroke="#22c9cc"/>
<path d="M11 30.5h1" stroke="#23c7ce"/>
<path d="M12 30.5h2" stroke="#23c7cd"/>
<path d="M14 30.5h1" stroke="#23c7ce"/>
<path d="M15 30.5h1" stroke="#22c9cc"/>
<path d="M16 30.5h1" stroke="#21cbca"/>
<path d="M17 30.5h1" stroke="#21cdc8"/>
<path d="M18 30.5h1" stroke="#20cec6"/>
<path d="M19 30.5h1" stroke="#1fd0c3"/>
<path d="M20 30.5h1" stroke="#1fd2c1"/>
<path d="M21 30.5h1" stroke="#1fd4bf"/>
<path d="M22 30.5h1" stroke="#1fd7ba"/>
<path d="M23 30.5h1" stroke="#20dab6"/>
<path d="M24 30.5h1" stroke="#21dcb2"/>
<path d="M25 30.5h1" stroke="#25e0ab"/>
<path d="M26 30.5h1" stroke="#2de5a1"/>
<path d="M27 30.5h1" stroke="#37e995"/>
<path d="M28 30.5h1" stroke="#47ed86"/>
<path d="M29 30.5h1" stroke="#54f079"/>
<path d="M30 30.5h1" stroke="#63f26d"/>
<path d="M31 30.5h1" stroke="#75f45e"/>
<path d="M32 30.5h1" stroke="#87f551"/>
<path d="M33 30.5h1" stroke="#96f446"/>
<path d="M34 30.5h1" stroke="#a3f23f"/>
<path d="M35 30.5h1" stroke="#abf03c"/>
<path d="M36 30.5h1" stroke="#b2ee3a"/>
<path d="M37 30.5h1" stroke="#b7ec39"/>
<path d="M38 30.5h1" stroke="#bbe939"/>
<path d="M39 30.5h1" stroke="#c0e739"/>
<path d="M40 30.5h1" stroke="#c2e639"/>
<path d="M41 30.5h1" stroke="#c5e439"/>
<path d="M42 30.5h2" stroke="#c7e339"/>
<path d="M44 30.5h1" stroke="#c5e439"/>
<path d="M45 30.5h1" stroke="#c0e739"/>
<path d="M46 30.5h1" stroke="#bbe939"/>
<path d="M47 30.5h1" stroke="#b4ed3a"/>
<path d="M48 30.5h1" stroke="#adef3b"/>
<path d="M49 30.5h1" stroke="#a3f23f"/>
<path d="M50 30.5h3" stroke="#9ef341"/>
<path d="M-3 31.5h3" stroke="#30b4db"/>
<path d="M0 31.5h1" stroke="#2eb6d9"/>
<path d="M1 31.5h1" stroke="#2db9d8"/>
<path d="M2 31.5h1" stroke="#2bbbd7"/>
<path d="M3 31.5h1" stroke="#28bfd4"/>
<path d="M4 31.5h1" stroke="#27c1d3"/>
<path d="M5 31.5h1" stroke="#24c5cf"/>
<path d="M6 31.5h1" stroke="#23c7cd"/>
<path d="M7 31.5h1" stroke="#22c9cb"/>
<path d="M8 31.5h3" stroke="#22c9cc"/>
<path d="M11 31.5h3" stroke="#23c7ce"/>
<path d="M14 31.5h1" stroke="#22c9cb"/>
<path d="M15 31.5h1" stroke="#22c9cc"/>
<path d="M16 31.5h1" stroke="#21cbca"/>
<path d="M17 31.5h1" stroke="#21cdc8"/>
<path d="M18 31.5h1" stroke="#1fd0c3"/>
<path d="M19 31.5h1" stroke="#1fd2c1"/>
<path d="M20 31.5h1" stroke="#1fd4bf"/>
<path d="M21 31.5h1" stroke="#1fd5bd"/>
<path d="M22 31.5h1" stroke="#1fd7ba"/>
<path d="M23 31.5h1" stroke="#20dab6"/>
<path d="M24 31.5h1" stroke="#21dcb2"/>
<path d="M25 31.5h1" stroke="#25e0ab"/>
<path d="M26 31.5h1" stroke="#2de5a1"/>
<path d="M27 31.5h1" stroke="#37e995"/>
<path d="M28 31.5h1" stroke="#43ec89"/>
<path d="M29 31.5h1" stroke="#51ef7d"/>
<path d="M30 31.5h1" stroke="#63f26d"/>
<path d="M31 31.5h1" stroke="#75f45e"/>
<path d="M32 31.5h1" stroke="#87f551"/>
<path d="M33 31.5h1" stroke="#96f446"/>
<path d="M34 31.5h1" stroke="#a1f340"/>
<path d="M35 31.5h1" stroke="#abf03c"/>
<path d="M36 31.5h1" stroke="#afee3b"/>
<path d="M37 31.5h1" stroke="#b7ec39"/>
<path d="M38 31.5h1" stroke="#bbe939"/>
<path d="M39 31.5h1" stroke="#bee839"/>
<path d="M40 31.5h1" stroke="#c2e639"/>
<path d="M41 31.5h4" stroke="#c5e439"/>
<path d="M45 31.5h1" stroke="#c0e739"/>
<path d="M46 31.5h1" stroke="#bbe939"/>
<path d="M47 31.5h1" stroke="#b4ed3a"/>
<path d="M48 31.5h1" stroke="#adef3b"/>
<path d="M49 31.5h1" stroke="#a3f23f"/>
<path d="M50 31.5h3" stroke="#9ef341"/>
<path d="M-3 32.5h3" stroke="#32b2dc"/>
<path d="M0 32.5h1" stroke="#30b4da"/>
<path d="M1 32.5h1" stroke="#2eb6d9"/>
<path d="M2 32.5h1" stroke="#2db9d8"/>
<path d="M3 32.5h1" stroke="#2abdd5"/>
<path d="M4 32.5h1" stroke="#27c1d2"/>
<path d="M5 32.5h1" stroke="#26c3d1"/>
<path d="M6 32.5h1" stroke="#24c5cf"/>
<path d="M7 32.5h1" stroke="#23c7ce"/>
<path d="M8 32.5h1" stroke="#22c9cb"/>
<path d="M9 32.5h6" stroke="#22c9cc"/>
<path d="M15 32.5h1" stroke="#21cbca"/>
<path d="M16 32.5h1" stroke="#21cdc8"/>
<path d="M17 32.5h1" stroke="#20cec6"/>
<path d="M18 32.5h1" stroke="#1fd0c3"/>
<path d="M19 32.5h1" stroke="#1fd2c1"/>
<path d="M20 32.5h1" stroke="#1fd4bf"/>
<path d="M21 32.5h1" stroke="#1fd5bd"/>
<path d="M22 32.5h1" stroke="#1fd7ba"/>
<path d="M23 32.5h1" stroke="#20dab6"/>
<path d="M24 32.5h1" stroke="#21dcb2"/>
<path d="M25 32.5h1" stroke="#25e0ab"/>
<path d="M26 32.5h1" stroke="#2de5a1"/>
<path d="M27 32.5h1" stroke="#37e995"/>
<path d="M28 32.5h1" stroke="#43ec89"/>
<path d="M29 32.5h1" stroke="#51ef7d"/>
<path d="M30 32.5h1" stroke="#5ff270"/>
<path d="M31 32.5h1" stroke="#72f461"/>
<path d="M32 32.5h1" stroke="#83f554"/>
<path d="M33 32.5h1" stroke="#93f448"/>
<path d="M34 32.5h1" stroke="#9ef341"/>
<path d="M35 32.5h1" stroke="#a8f13d"/>
<path d="M36 32.5h1" stroke="#afee3b"/>
<path d="M37 32.5h1" stroke="#b4ed3a"/>
<path d="M38 32.5h1" stroke="#b9ea39"/>
<path d="M39 32.5h1" stroke="#bee839"/>
<path d="M40 32.5h1" stroke="#c0e739"/>
<path d="M41 32.5h1" stroke="#c2e639"/>
<path d="M42 32.5h2" stroke="#c5e439"/>
<path d="M44 32.5h1" stroke="#c2e639"/>
<path d="M45 32.5h1" stroke="#c0e739"/>
<path d="M46 32.5h1" stroke="#bbe939"/>
<path d="M47 32.5h1" stroke="#b4ed3a"/>
<path d="M48 32.5h1" stroke="#adef3b"/>
<path d="M49 32.5h1" stroke="#a3f23f"/>
<path d="M50 32.5h3" stroke="#9ef341"/>
<path d="M-3 33.5h3" stroke="#35aedf"/>
<path d="M0 33.5h1" stroke="#33b0de"/>
<path d="M1 33.5h1" stroke="#32b2dc"/>
<path d="M2 33.5h1" stroke="#2eb6d9"/>
<path d="M3 33.5h1" stroke="#2bbbd6"/>
<path d="M4 33.5h1" stroke="#2abdd6"/>
<path d="M5 33.5h1" stroke="#27c1d2"/>
<path d="M6 33.5h1" stroke="#26c3d1"/>
<path d="M7 33.5h1" stroke="#24c5d0"/>
<path d="M8 33.5h1" stroke="#23c7ce"/>
<path d="M9 33.5h1" stroke="#22c9cb"/>
<path d="M10 33.5h3" stroke="#22c9cc"/>
<path d="M13 33.5h2" stroke="#21cbca"/>
<path d="M15 33.5h1" stroke="#21cdc8"/>
<path d="M16 33.5h1" stroke="#20cec5"/>
<path d="M17 33.5h1" stroke="#1fd0c3"/>
<path d="M18 33.5h1" stroke="#1fd2c1"/>
<path d="M19 33.5h2" stroke="#1fd4bf"/>
<path d="M21 33.5h1" stroke="#1fd5bd"/>
<path d="M22 33.5h1" stroke="#1fd7ba"/>
<path d="M23 33.5h1" stroke="#20dab6"/>
<path d="M24 33.5h1" stroke="#21dcb2"/>
<path d="M25 33.5h1" stroke="#25e0ab"/>
<path d="M26 33.5h1" stroke="#2be4a3"/>
<path d="M27 33.5h1" stroke="#35e898"/>
<path d="M28 33.5h1" stroke="#40ec8c"/>
<path d="M29 33.5h1" stroke="#4eef80"/>
<path d="M30 33.5h1" stroke="#5cf173"/>
<path d="M31 33.5h1" stroke="#6ef464"/>
<path d="M32 33.5h1" stroke="#80f556"/>
<path d="M33 33.5h1" stroke="#8df54d"/>
<path d="M34 33.5h1" stroke="#9cf343"/>
<path d="M35 33.5h1" stroke="#a6f13e"/>
<path d="M36 33.5h1" stroke="#adef3b"/>
<path d="M37 33.5h1" stroke="#b4ed3a"/>
<path d="M38 33.5h1" stroke="#b9ea39"/>
<path d="M39 33.5h1" stroke="#bbe939"/>
<path d="M40 33.5h2" stroke="#c0e739"/>
<path d="M42 33.5h2" stroke="#c2e639"/>
<path d="M44 33.5h1" stroke="#c0e739"/>
<path d="M45 33.5h1" stroke="#bee839"/>
<path d="M46 33.5h1" stroke="#b9ea39"/>
<path d="M47 33.5h1" stroke="#b4ed3a"/>
<path d="M48 33.5h1" stroke="#adef3b"/>
<path d="M49 33.5h1" stroke="#a6f13e"/>
<path d="M50 33.5h3" stroke="#a1f340"/>
<path d="M-3 34.5h3" stroke="#38a9e3"/>
<path d="M0 34.5h1" stroke="#37abe1"/>
<path d="M1 34.5h1" stroke="#33b0de"/>
<path d="M2 34.5h1" stroke="#32b2dc"/>
<path d="M3 34.5h1" stroke="#2eb6d9"/>
<path d="M4 34.5h1" stroke="#2bbbd7"/>
<path d="M5 34.5h1" stroke="#28bfd4"/>
<path d="M6 34.5h1" stroke="#27c1d3"/>
<path d="M7 34.5h1" stroke="#26c3d1"/>
<path d="M8 34.5h1" stroke="#24c5d0"/>
<path d="M9 34.5h1" stroke="#23c7ce"/>
<path d="M10 34.5h2" stroke="#22c9cc"/>
<path d="M12 34.5h2" stroke="#21cbca"/>
<path d="M14 34.5h2" stroke="#21cdc8"/>
<path d="M16 34.5h1" stroke="#20cec6"/>
<path d="M17 34.5h1" stroke="#1fd0c3"/>
<path d="M18 34.5h1" stroke="#1fd2c1"/>
<path d="M19 34.5h1" stroke="#1fd4bf"/>
<path d="M20 34.5h2" stroke="#1fd5bd"/>
<path d="M22 34.5h1" stroke="#1fd7ba"/>
<path d="M23 34.5h1" stroke="#1fd8b8"/>
<path d="M24 34.5h1" stroke="#20dbb4"/>
<path d="M25 34.5h1" stroke="#24dfad"/>
<path d="M26 34.5h1" stroke="#29e2a6"/>
<path d="M27 34.5h1" stroke="#32e79b"/>
<path d="M28 34.5h1" stroke="#3deb8f"/>
<path d="M29 34.5h1" stroke="#4aee83"/>
<path d="M30 34.5h1" stroke="#58f176"/>
<path d="M31 34.5h1" stroke="#6af367"/>
<path d="M32 34.5h1" stroke="#79f45b"/>
<path d="M33 34.5h1" stroke="#8af54f"/>
<path d="M34 34.5h1" stroke="#96f446"/>
<path d="M35 34.5h1" stroke="#a3f23f"/>
<path d="M36 34.5h1" stroke="#abf03c"/>
<path d="M37 34.5h1" stroke="#b2ee3a"/>
<path d="M38 34.5h1" stroke="#b7ec39"/>
<path d="M39 34.5h1" stroke="#bbe939"/>
<path d="M40 34.5h2" stroke="#bee839"/>
<path d="M42 34.5h2" stroke="#c0e739"/>
<path d="M44 34.5h2" stroke="#bee839"/>
<path d="M46 34.5h1" stroke="#b9ea39"/>
<path d="M47 34.5h1" stroke="#b7ec39"/>
<path d="M48 34.5h1" stroke="#afee3b"/>
<path d="M49 34.5h1" stroke="#a8f13d"/>
<path d="M50 34.5h3" stroke="#a3f23f"/>
<path d="M-3 35.5h3" stroke="#3aa4e6"/>
<path d="M0 35.5h1" stroke="#39a7e5"/>
<path d="M1 35.5h1" stroke="#36abe1"/>
<path d="M2 35.5h1" stroke="#33b0de"/>
<path d="M3 35.5h1" stroke="#30b4da"/>
<path d="M4 35.5h1" stroke="#2db9d8"/>
<path d="M5 35.5h1" stroke="#2bbbd7"/>
<path d="M6 35.5h1" stroke="#28bfd4"/>
<path d="M7 35.5h1" stroke="#27c1d3"/>
<path d="M8 35.5h1" stroke="#24c5cf"/>
<path d="M9 35.5h1" stroke="#23c7cd"/>
<path d="M10 35.5h1" stroke="#22c9cb"/>
<path d="M11 35.5h1" stroke="#22c9cc"/>
<path d="M12 35.5h1" stroke="#21cbca"/>
<path d="M13 35.5h2" stroke="#21cdc8"/>
<path d="M15 35.5h1" stroke="#20cec5"/>
<path d="M16 35.5h1" stroke="#20cec6"/>
<path d="M17 35.5h1" stroke="#1fd0c3"/>
<path d="M18 35.5h1" stroke="#1fd2c1"/>
<path d="M19 35.5h2" stroke="#1fd4bf"/>
<path d="M21 35.5h1" stroke="#1fd5bd"/>
<path d="M22 35.5h1" stroke="#1fd7ba"/>
<path d="M23 35.5h1" stroke="#1fd8b8"/>
<path d="M24 35.5h1" stroke="#20dab6"/>
<path d="M25 35.5h1" stroke="#23deb0"/>
<path d="M26 35.5h1" stroke="#27e1a9"/>
<path d="M27 35.5h1" stroke="#2fe69e"/>
<path d="M28 35.5h1" stroke="#3aea92"/>
<path d="M29 35.5h1" stroke="#47ed86"/>
<path d="M30 35.5h1" stroke="#54f079"/>
<path d="M31 35.5h1" stroke="#63f26d"/>
<path d="M32 35.5h1" stroke="#75f45e"/>
<path d="M33 35.5h1" stroke="#83f554"/>
<path d="M34 35.5h1" stroke="#93f448"/>
<path d="M35 35.5h1" stroke="#9ef341"/>
<path d="M36 35.5h1" stroke="#a8f13d"/>
<path d="M37 35.5h1" stroke="#afee3b"/>
<path d="M38 35.5h1" stroke="#b4ed3a"/>
<path d="M39 35.5h1" stroke="#b9ea39"/>
<path d="M40 35.5h2" stroke="#bbe939"/>
<path d="M42 35.5h3" stroke="#bee839"/>
<path d="M45 35.5h2" stroke="#bbe939"/>
<path d="M47 35.5h1" stroke="#b7ec39"/>
<path d="M48 35.5h1" stroke="#b2ee3a"/>
<path d="M49 35.5h1" stroke="#abf03c"/>
<path d="M50 35.5h3" stroke="#a6f13e"/>
<path d="M-3 36.5h3" stroke="#3aa2e9"/>
<path d="M0 36.5h1" stroke="#3ba2e8"/>
<path d="M1 36.5h1" stroke="#38a7e5"/>
<path d="M2 36.5h1" stroke="#36abe1"/>
<path d="M3 36.5h1" stroke="#33b0de"/>
<path d="M4 36.5h1" stroke="#30b4db"/>
<path d="M5 36.5h1" stroke="#2db9d8"/>
<path d="M6 36.5h1" stroke="#2abdd5"/>
<path d="M7 36.5h1" stroke="#28bfd4"/>
<path d="M8 36.5h1" stroke="#26c3d1"/>
<path d="M9 36.5h1" stroke="#24c5cf"/>
<path d="M10 36.5h1" stroke="#23c7cd"/>
<path d="M11 36.5h1" stroke="#22c9cc"/>
<path d="M12 36.5h2" stroke="#21cbca"/>
<path d="M14 36.5h1" stroke="#21cdc8"/>
<path d="M15 36.5h1" stroke="#20cec5"/>
<path d="M16 36.5h1" stroke="#20cec6"/>
<path d="M17 36.5h1" stroke="#1fd0c3"/>
<path d="M18 36.5h1" stroke="#1fd2c1"/>
<path d="M19 36.5h2" stroke="#1fd4bf"/>
<path d="M21 36.5h2" stroke="#1fd5bd"/>
<path d="M23 36.5h1" stroke="#1fd7ba"/>
<path d="M24 36.5h1" stroke="#1fd8b8"/>
<path d="M25 36.5h1" stroke="#20dbb4"/>
<path d="M26 36.5h1" stroke="#25e0ab"/>
<path d="M27 36.5h1" stroke="#2de5a1"/>
<path d="M28 36.5h1" stroke="#37e995"/>
<path d="M29 36.5h1" stroke="#43ec89"/>
<path d="M30 36.5h1" stroke="#51ef7d"/>
<path d="M31 36.5h1" stroke="#5ff270"/>
<path d="M32 36.5h1" stroke="#6ef464"/>
<path d="M33 36.5h1" stroke="#80f556"/>
<path d="M34 36.5h1" stroke="#8df54d"/>
<path d="M35 36.5h1" stroke="#9cf343"/>
<path d="M36 36.5h1" stroke="#a6f13e"/>
<path d="M37 36.5h1" stroke="#adef3b"/>
<path d="M38 36.5h1" stroke="#b2ee3a"/>
<path d="M39 36.5h1" stroke="#b7ec39"/>
<path d="M40 36.5h1" stroke="#b9ea39"/>
<path d="M41 36.5h2" stroke="#bbe939"/>
<path d="M43 36.5h2" stroke="#bee839"/>
<path d="M45 36.5h2" stroke="#bbe939"/>
<path d="M47 36.5h1" stroke="#b9ea39"/>
<path d="M48 36.5h1" stroke="#b4ed3a"/>
<path d="M49 36.5h1" stroke="#adef3b"/>
<path d="M50 36.5h3" stroke="#abf03c"/>
<path d="M-3 37.5h3" stroke="#3c9dec"/>
<path d="M0 37.5h1" stroke="#3ba0eb"/>
<path d="M1 37.5h1" stroke="#3aa2e8"/>
<path d="M2 37.5h1" stroke="#39a7e5"/>
<path d="M3 37.5h1" stroke="#36abe1"/>
<path d="M4 37.5h1" stroke="#33b0de"/>
<path d="M5 37.5h1" stroke="#30b4db"/>
<path d="M6 37.5h1" stroke="#2db9d8"/>
<path d="M7 37.5h1" stroke="#2abdd5"/>
<path d="M8 37.5h1" stroke="#28bfd4"/>
<path d="M9 37.5h1" stroke="#26c3d1"/>
<path d="M10 37.5h1" stroke="#24c5cf"/>
<path d="M11 37.5h1" stroke="#23c7cd"/>
<path d="M12 37.5h1" stroke="#22c9cc"/>
<path d="M13 37.5h1" stroke="#21cbca"/>
<path d="M14 37.5h2" stroke="#21cdc8"/>
<path d="M16 37.5h1" stroke="#20cec6"/>
<path d="M17 37.5h1" stroke="#1fd0c3"/>
<path d="M18 37.5h2" stroke="#1fd2c1"/>
<path d="M20 37.5h3" stroke="#1fd4bf"/>
<path d="M23 37.5h1" stroke="#1fd5bd"/>
<path d="M24 37.5h1" stroke="#1fd7ba"/>
<path d="M25 37.5h1" stroke="#20dab6"/>
<path d="M26 37.5h1" stroke="#23deb0"/>
<path d="M27 37.5h1" stroke="#29e2a6"/>
<path d="M28 37.5h1" stroke="#35e898"/>
<path d="M29 37.5h1" stroke="#40ec8c"/>
<path d="M30 37.5h1" stroke="#4aee83"/>
<path d="M31 37.5h1" stroke="#58f176"/>
<path d="M32 37.5h1" stroke="#67f36a"/>
<path d="M33 37.5h1" stroke="#79f45b"/>
<path d="M34 37.5h1" stroke="#87f551"/>
<path d="M35 37.5h1" stroke="#96f446"/>
<path d="M36 37.5h1" stroke="#a1f340"/>
<path d="M37 37.5h1" stroke="#a8f13d"/>
<path d="M38 37.5h1" stroke="#afee3b"/>
<path d="M39 37.5h1" stroke="#b4ed3a"/>
<path d="M40 37.5h1" stroke="#b7ec39"/>
<path d="M41 37.5h1" stroke="#b9ea39"/>
<path d="M42 37.5h3" stroke="#bbe939"/>
<path d="M45 37.5h1" stroke="#bee839"/>
<path d="M46 37.5h1" stroke="#bbe939"/>
<path d="M47 37.5h1" stroke="#b9ea39"/>
<path d="M48 37.5h1" stroke="#b7ec39"/>
<path d="M49 37.5h1" stroke="#b2ee3a"/>
<path d="M50 37.5h3" stroke="#afee3b"/>
<path d="M-3 38.5h4" stroke="#3d9bee"/>
<path d="M1 38.5h1" stroke="#3ba0eb"/>
<path d="M2 38.5h1" stroke="#3aa2e8"/>
<path d="M3 38.5h1" stroke="#38a7e5"/>
<path d="M4 38.5h1" stroke="#36abe1"/>
<path d="M5 38.5h1" stroke="#33b0de"/>
<path d="M6 38.5h1" stroke="#30b4db"/>
<path d="M7 38.5h1" stroke="#2db9d8"/>
<path d="M8 38.5h1" stroke="#2bbbd7"/>
<path d="M9 38.5h1" stroke="#28bfd4"/>
<path d="M10 38.5h1" stroke="#27c1d3"/>
<path d="M11 38.5h1" stroke="#26c3d1"/>
<path d="M12 38.5h1" stroke="#24c5d0"/>
<path d="M13 38.5h1" stroke="#22c9cb"/>
<path d="M14 38.5h1" stroke="#21cbca"/>
<path d="M15 38.5h1" stroke="#21cdc8"/>
<path d="M16 38.5h1" stroke="#20cec5"/>
<path d="M17 38.5h2" stroke="#1fd0c3"/>
<path d="M19 38.5h1" stroke="#1fd2c1"/>
<path d="M20 38.5h5" stroke="#1fd4bf"/>
<path d="M25 38.5h1" stroke="#1fd7ba"/>
<path d="M26 38.5h1" stroke="#21dcb2"/>
<path d="M27 38.5h1" stroke="#27e1a9"/>
<path d="M28 38.5h1" stroke="#2fe69e"/>
<path d="M29 38.5h1" stroke="#3aea92"/>
<path d="M30 38.5h1" stroke="#47ed86"/>
<path d="M31 38.5h1" stroke="#54f079"/>
<path d="M32 38.5h1" stroke="#5ff270"/>
<path d="M33 38.5h1" stroke="#72f461"/>
<path d="M34 38.5h1" stroke="#80f556"/>
<path d="M35 38.5h1" stroke="#8df54d"/>
<path d="M36 38.5h1" stroke="#9cf343"/>
<path d="M37 38.5h1" stroke="#a3f23f"/>
<path d="M38 38.5h1" stroke="#abf03c"/>
<path d="M39 38.5h1" stroke="#b2ee3a"/>
<path d="M40 38.5h1" stroke="#b4ed3a"/>
<path d="M41 38.5h2" stroke="#b9ea39"/>
<path d="M43 38.5h1" stroke="#bbe939"/>
<path d="M44 38.5h3" stroke="#bee839"/>
<path d="M47 38.5h1" stroke="#bbe939"/>
<path d="M48 38.5h1" stroke="#b9ea39"/>
<path d="M49 38.5h1" stroke="#b7ec39"/>
<path d="M50 38.5h3" stroke="#b2ee3a"/>
<path d="M-3 39.5h4" stroke="#3e96f0"/>
<path d="M1 39.5h1" stroke="#3d9bee"/>
<path d="M2 39.5h1" stroke="#3c9dec"/>
<path d="M3 39.5h1" stroke="#3aa2e9"/>
<path d="M4 39.5h1" stroke="#38a7e5"/>
<path d="M5 39.5h1" stroke="#36abe1"/>
<path d="M6 39.5h1" stroke="#33b0de"/>
<path d="M7 39.5h1" stroke="#30b4da"/>
<path d="M8 39.5h1" stroke="#2eb6d9"/>
<path d="M9 39.5h1" stroke="#2bbbd7"/>
<path d="M10 39.5h1" stroke="#2abdd6"/>
<path d="M11 39.5h1" stroke="#27c1d2"/>
<path d="M12 39.5h1" stroke="#26c3d1"/>
<path d="M13 39.5h1" stroke="#24c5cf"/>
<path d="M14 39.5h1" stroke="#22c9cb"/>
<path d="M15 39.5h1" stroke="#21cbca"/>
<path d="M16 39.5h1" stroke="#21cdc8"/>
<path d="M17 39.5h1" stroke="#20cec6"/>
<path d="M18 39.5h1" stroke="#1fd0c3"/>
<path d="M19 39.5h2" stroke="#1fd2c1"/>
<path d="M21 39.5h1" stroke="#1fd4bf"/>
<path d="M22 39.5h3" stroke="#1fd2c1"/>
<path d="M25 39.5h1" stroke="#1fd5bd"/>
<path d="M26 39.5h1" stroke="#20dab6"/>
<path d="M27 39.5h1" stroke="#24dfad"/>
<path d="M28 39.5h1" stroke="#2be4a3"/>
<path d="M29 39.5h1" stroke="#35e898"/>
<path d="M30 39.5h1" stroke="#40ec8c"/>
<path d="M31 39.5h1" stroke="#4eef80"/>
<path d="M32 39.5h1" stroke="#58f176"/>
<path d="M33 39.5h1" stroke="#67f36a"/>
<path d="M34 39.5h1" stroke="#75f45e"/>
<path d="M35 39.5h1" stroke="#87f551"/>
<path d="M36 39.5h1" stroke="#93f448"/>
<path d="M37 39.5h1" stroke="#9ef341"/>
<path d="M38 39.5h1" stroke="#a6f13e"/>
<path d="M39 39.5h1" stroke="#adef3b"/>
<path d="M40 39.5h1" stroke="#b2ee3a"/>
<path d="M41 39.5h1" stroke="#b7ec39"/>
<path d="M42 39.5h1" stroke="#b9ea39"/>
<path d="M43 39.5h2" stroke="#bbe939"/>
<path d="M45 39.5h4" stroke="#bee839"/>
<path d="M49 39.5h1" stroke="#b9ea39"/>
<path d="M50 39.5h3" stroke="#b7ec39"/>
<path d="M-3 40.5h3" stroke="#3f8ff2"/>
<path d="M0 40.5h1" stroke="#3f92f2"/>
<path d="M1 40.5h1" stroke="#3f94f1"/>
<path d="M2 40.5h1" stroke="#3e96f0"/>
<path d="M3 40.5h1" stroke="#3d9bee"/>
<path d="M4 40.5h1" stroke="#3ba0ea"/>
<path d="M5 40.5h1" stroke="#39a4e7"/>
<path d="M6 40.5h1" stroke="#38a9e3"/>
<path d="M7 40.5h1" stroke="#35aedf"/>
<path d="M8 40.5h1" stroke="#32b2dc"/>
<path d="M9 40.5h1" stroke="#2eb6d9"/>
<path d="M10 40.5h1" stroke="#2db9d8"/>
<path d="M11 40.5h1" stroke="#2abdd5"/>
<path d="M12 40.5h1" stroke="#28bfd4"/>
<path d="M13 40.5h1" stroke="#27c1d3"/>
<path d="M14 40.5h1" stroke="#24c5cf"/>
<path d="M15 40.5h1" stroke="#22c9cb"/>
<path d="M16 40.5h1" stroke="#21cbca"/>
<path d="M17 40.5h1" stroke="#21cdc8"/>
<path d="M18 40.5h1" stroke="#1fd0c3"/>
<path d="M19 40.5h4" stroke="#1fd2c1"/>
<path d="M23 40.5h2" stroke="#1fd0c3"/>
<path d="M25 40.5h1" stroke="#1fd2c1"/>
<path d="M26 40.5h1" stroke="#1fd7ba"/>
<path d="M27 40.5h1" stroke="#21dcb2"/>
<path d="M28 40.5h1" stroke="#27e1a9"/>
<path d="M29 40.5h1" stroke="#2de5a1"/>
<path d="M30 40.5h1" stroke="#37e995"/>
<path d="M31 40.5h1" stroke="#43ec89"/>
<path d="M32 40.5h1" stroke="#4eef80"/>
<path d="M33 40.5h1" stroke="#5cf173"/>
<path d="M34 40.5h1" stroke="#6af367"/>
<path d="M35 40.5h1" stroke="#79f45b"/>
<path d="M36 40.5h1" stroke="#8af54f"/>
<path d="M37 40.5h1" stroke="#96f446"/>
<path d="M38 40.5h1" stroke="#9ef341"/>
<path d="M39 40.5h1" stroke="#a6f13e"/>
<path d="M40 40.5h1" stroke="#adef3b"/>
<path d="M41 40.5h1" stroke="#b2ee3a"/>
<path d="M42 40.5h1" stroke="#b4ed3a"/>
<path d="M43 40.5h1" stroke="#b7ec39"/>
<path d="M44 40.5h1" stroke="#bbe939"/>
<path d="M45 40.5h1" stroke="#bee839"/>
<path d="M46 40.5h1" stroke="#c0e739"/>
<path d="M47 40.5h1" stroke="#c2e639"/>
<path d="M48 40.5h1" stroke="#c0e739"/>
<path d="M49 40.5h1" stroke="#bee839"/>
<path d="M50 40.5h3" stroke="#b9ea39"/>
<path d="M-3 41.5h3" stroke="#4186f1"/>
<path d="M0 41.5h1" stroke="#4186f0"/>
<path d="M1 41.5h1" stroke="#408bf2"/>
<path d="M2 41.5h1" stroke="#3f8ff2"/>
<path d="M3 41.5h1" stroke="#3f94f1"/>
<path d="M4 41.5h1" stroke="#3d99ef"/>
<path d="M5 41.5h1" stroke="#3c9dec"/>
<path d="M6 41.5h1" stroke="#3ba2e8"/>
<path d="M7 41.5h1" stroke="#39a7e5"/>
<path d="M8 41.5h1" stroke="#37abe1"/>
<path d="M9 41.5h1" stroke="#33b0de"/>
<path d="M10 41.5h1" stroke="#30b4db"/>
<path d="M11 41.5h1" stroke="#2db9d8"/>
<path d="M12 41.5h1" stroke="#2bbbd7"/>
<path d="M13 41.5h1" stroke="#28bfd4"/>
<path d="M14 41.5h1" stroke="#26c3d1"/>
<path d="M15 41.5h1" stroke="#24c5cf"/>
<path d="M16 41.5h1" stroke="#22c9cc"/>
<path d="M17 41.5h1" stroke="#21cdc7"/>
<path d="M18 41.5h1" stroke="#20cec6"/>
<path d="M19 41.5h1" stroke="#1fd0c3"/>
<path d="M20 41.5h2" stroke="#1fd2c1"/>
<path d="M22 41.5h1" stroke="#1fd0c3"/>
<path d="M23 41.5h1" stroke="#20cec6"/>
<path d="M24 41.5h1" stroke="#20cec5"/>
<path d="M25 41.5h1" stroke="#20cec6"/>
<path d="M26 41.5h1" stroke="#1fd2c1"/>
<path d="M27 41.5h1" stroke="#1fd7ba"/>
<path d="M28 41.5h1" stroke="#21dcb2"/>
<path d="M29 41.5h1" stroke="#25e0ab"/>
<path d="M30 41.5h1" stroke="#2de5a1"/>
<path d="M31 41.5h1" stroke="#37e995"/>
<path d="M32 41.5h1" stroke="#40ec8c"/>
<path d="M33 41.5h1" stroke="#4eef80"/>
<path d="M34 41.5h1" stroke="#5ff270"/>
<path d="M35 41.5h1" stroke="#6ef464"/>
<path d="M36 41.5h1" stroke="#7cf459"/>
<path d="M37 41.5h1" stroke="#8af54f"/>
<path d="M38 41.5h1" stroke="#93f448"/>
<path d="M39 41.5h1" stroke="#9cf343"/>
<path d="M40 41.5h1" stroke="#a1f340"/>
<path d="M41 41.5h1" stroke="#a8f13d"/>
<path d="M42 41.5h1" stroke="#adef3b"/>
<path d="M43 41.5h1" stroke="#b2ee3a"/>
<path d="M44 41.5h1" stroke="#b7ec39"/>
<path d="M45 41.5h1" stroke="#bee839"/>
<path d="M46 41.5h1" stroke="#c2e639"/>
<path d="M47 41.5h2" stroke="#c5e439"/>
<path d="M49 41.5h1" stroke="#c0e739"/>
<path d="M50 41.5h3" stroke="#bbe939"/>
<path d="M-3 42.5h3" stroke="#4278e7"/>
<path d="M0 42.5h1" stroke="#427be9"/>
<path d="M1 42.5h1" stroke="#427fed"/>
<path d="M2 42.5h1" stroke="#4186f1"/>
<path d="M3 42.5h1" stroke="#408bf2"/>
<path d="M4 42.5h1" stroke="#408ff2"/>
<path d="M5 42.5h1" stroke="#3e96f0"/>
<path d="M6 42.5h1" stroke="#3d9bee"/>
<path d="M7 42.5h1" stroke="#3ba0ea"/>
<path d="M8 42.5h1" stroke="#3aa4e6"/>
<path d="M9 42.5h1" stroke="#36abe1"/>
<path d="M10 42.5h1" stroke="#33b0de"/>
<path d="M11 42.5h1" stroke="#30b4da"/>
<path d="M12 42.5h1" stroke="#2db9d8"/>
<path d="M13 42.5h1" stroke="#2bbbd7"/>
<path d="M14 42.5h1" stroke="#28bfd4"/>
<path d="M15 42.5h1" stroke="#26c3d1"/>
<path d="M16 42.5h1" stroke="#23c7cd"/>
<path d="M17 42.5h1" stroke="#22c9cc"/>
<path d="M18 42.5h1" stroke="#21cdc8"/>
<path d="M19 42.5h1" stroke="#20cec6"/>
<path d="M20 42.5h3" stroke="#1fd0c3"/>
<path d="M23 42.5h1" stroke="#21cdc8"/>
<path d="M24 42.5h1" stroke="#21cbca"/>
<path d="M25 42.5h1" stroke="#21cdc7"/>
<path d="M26 42.5h1" stroke="#20cec5"/>
<path d="M27 42.5h1" stroke="#1fd2c1"/>
<path d="M28 42.5h1" stroke="#1fd5bd"/>
<path d="M29 42.5h1" stroke="#20dbb4"/>
<path d="M30 42.5h1" stroke="#24dfad"/>
<path d="M31 42.5h1" stroke="#2be4a3"/>
<path d="M32 42.5h1" stroke="#35e898"/>
<path d="M33 42.5h1" stroke="#40ec8c"/>
<path d="M34 42.5h1" stroke="#51ef7d"/>
<path d="M35 42.5h1" stroke="#5ff270"/>
<path d="M36 42.5h1" stroke="#6ef464"/>
<path d="M37 42.5h1" stroke="#79f45b"/>
<path d="M38 42.5h1" stroke="#83f554"/>
<path d="M39 42.5h1" stroke="#8df54d"/>
<path d="M40 42.5h1" stroke="#93f448"/>
<path d="M41 42.5h1" stroke="#99f445"/>
<path d="M42 42.5h1" stroke="#a1f340"/>
<path d="M43 42.5h1" stroke="#a8f13d"/>
<path d="M44 42.5h1" stroke="#b2ee3a"/>
<path d="M45 42.5h1" stroke="#bbe939"/>
<path d="M46 42.5h1" stroke="#c2e639"/>
<path d="M47 42.5h2" stroke="#c7e339"/>
<path d="M49 42.5h1" stroke="#c2e639"/>
<path d="M50 42.5h3" stroke="#bee839"/>
<path d="M-3 43.5h3" stroke="#426bd6"/>
<path d="M0 43.5h1" stroke="#426fdc"/>
<path d="M1 43.5h1" stroke="#4274e3"/>
<path d="M2 43.5h1" stroke="#427be9"/>
<path d="M3 43.5h1" stroke="#4282ee"/>
<path d="M4 43.5h1" stroke="#4186f0"/>
<path d="M5 43.5h1" stroke="#408df2"/>
<path d="M6 43.5h1" stroke="#3e94f2"/>
<path d="M7 43.5h1" stroke="#3d99ef"/>
<path d="M8 43.5h1" stroke="#3c9dec"/>
<path d="M9 43.5h1" stroke="#39a4e7"/>
<path d="M10 43.5h1" stroke="#37a9e3"/>
<path d="M11 43.5h1" stroke="#35aedf"/>
<path d="M12 43.5h1" stroke="#32b2dc"/>
<path d="M13 43.5h1" stroke="#2eb6d9"/>
<path d="M14 43.5h1" stroke="#2bbbd7"/>
<path d="M15 43.5h1" stroke="#28bfd4"/>
<path d="M16 43.5h1" stroke="#26c3d1"/>
<path d="M17 43.5h1" stroke="#23c7ce"/>
<path d="M18 43.5h1" stroke="#21cbca"/>
<path d="M19 43.5h1" stroke="#21cdc8"/>
<path d="M20 43.5h1" stroke="#20cec6"/>
<path d="M21 43.5h1" stroke="#1fd0c3"/>
<path d="M22 43.5h1" stroke="#20cec5"/>
<path d="M23 43.5h1" stroke="#21cdc8"/>
<path d="M24 43.5h3" stroke="#22c9cc"/>
<path d="M27 43.5h1" stroke="#21cdc8"/>
<path d="M28 43.5h1" stroke="#1fd0c3"/>
<path d="M29 43.5h1" stroke="#1fd4bf"/>
<path d="M30 43.5h1" stroke="#20dab6"/>
<path d="M31 43.5h1" stroke="#23deb0"/>
<path d="M32 43.5h1" stroke="#2be4a3"/>
<path d="M33 43.5h1" stroke="#35e898"/>
<path d="M34 43.5h1" stroke="#40ec8c"/>
<path d="M35 43.5h1" stroke="#4eef80"/>
<path d="M36 43.5h1" stroke="#5cf173"/>
<path d="M37 43.5h1" stroke="#67f36a"/>
<path d="M38 43.5h1" stroke="#72f461"/>
<path d="M39 43.5h1" stroke="#79f45b"/>
<path d="M40 43.5h1" stroke="#83f554"/>
<path d="M41 43.5h1" stroke="#8af54f"/>
<path d="M42 43.5h1" stroke="#93f448"/>
<path d="M43 43.5h1" stroke="#9ef341"/>
<path d="M44 43.5h1" stroke="#abf03c"/>
<path d="M45 43.5h1" stroke="#b7ec39"/>
<path d="M46 43.5h1" stroke="#c0e739"/>
<path d="M47 43.5h1" stroke="#c7e339"/>
<path d="M48 43.5h1" stroke="#c9e239"/>
<path d="M49 43.5h1" stroke="#c2e639"/>
<path d="M50 43.5h3" stroke="#bbe939"/>
<path d="M-3 44.5h3" stroke="#415fc3"/>
<path d="M0 44.5h1" stroke="#4164ca"/>
<path d="M1 44.5h1" stroke="#4268d2"/>
<path d="M2 44.5h1" stroke="#426fdc"/>
<path d="M3 44.5h1" stroke="#4276e5"/>
<path d="M4 44.5h1" stroke="#427deb"/>
<path d="M5 44.5h1" stroke="#4284ef"/>
<path d="M6 44.5h1" stroke="#4188f1"/>
<path d="M7 44.5h1" stroke="#3f8ff2"/>
<path d="M8 44.5h1" stroke="#3e96f0"/>
<path d="M9 44.5h1" stroke="#3d9bed"/>
<path d="M10 44.5h1" stroke="#3aa2e9"/>
<path d="M11 44.5h1" stroke="#39a7e5"/>
<path d="M12 44.5h1" stroke="#35aedf"/>
<path d="M13 44.5h1" stroke="#32b2dc"/>
<path d="M14 44.5h1" stroke="#2eb6d9"/>
<path d="M15 44.5h1" stroke="#2bbbd6"/>
<path d="M16 44.5h1" stroke="#28bfd4"/>
<path d="M17 44.5h1" stroke="#26c3d1"/>
<path d="M18 44.5h1" stroke="#23c7ce"/>
<path d="M19 44.5h1" stroke="#21cbca"/>
<path d="M20 44.5h1" stroke="#21cdc8"/>
<path d="M21 44.5h1" stroke="#20cec5"/>
<path d="M22 44.5h1" stroke="#21cdc8"/>
<path d="M23 44.5h1" stroke="#21cbca"/>
<path d="M24 44.5h1" stroke="#22c9cc"/>
<path d="M25 44.5h2" stroke="#23c7ce"/>
<path d="M27 44.5h1" stroke="#22c9cb"/>
<path d="M28 44.5h1" stroke="#21cbca"/>
<path d="M29 44.5h1" stroke="#20cec6"/>
<path d="M30 44.5h1" stroke="#1fd4bf"/>
<path d="M31 44.5h1" stroke="#1fd8b8"/>
<path d="M32 44.5h1" stroke="#23deb0"/>
<path d="M33 44.5h1" stroke="#29e2a6"/>
<path d="M34 44.5h1" stroke="#35e898"/>
<path d="M35 44.5h1" stroke="#40ec8c"/>
<path d="M36 44.5h1" stroke="#4eef80"/>
<path d="M37 44.5h1" stroke="#58f176"/>
<path d="M38 44.5h1" stroke="#63f26d"/>
<path d="M39 44.5h1" stroke="#6af367"/>
<path d="M40 44.5h1" stroke="#72f461"/>
<path d="M41 44.5h1" stroke="#7cf459"/>
<path d="M42 44.5h1" stroke="#87f551"/>
<path d="M43 44.5h1" stroke="#93f448"/>
<path d="M44 44.5h1" stroke="#a1f340"/>
<path d="M45 44.5h1" stroke="#adef3b"/>
<path d="M46 44.5h1" stroke="#b9ea39"/>
<path d="M47 44.5h1" stroke="#c0e739"/>
<path d="M48 44.5h1" stroke="#c2e639"/>
<path d="M49 44.5h1" stroke="#bee839"/>
<path d="M50 44.5h3" stroke="#b7ec39"/>
<path d="M-3 45.5h3" stroke="#4058b6"/>
<path d="M0 45.5h1" stroke="#405aba"/>
<path d="M1 45.5h1" stroke="#415fc3"/>
<path d="M2 45.5h1" stroke="#4164cb"/>
<path d="M3 45.5h1" stroke="#426bd6"/>
<path d="M4 45.5h1" stroke="#4271df"/>
<path d="M5 45.5h1" stroke="#4278e7"/>
<path d="M6 45.5h1" stroke="#427fed"/>
<path d="M7 45.5h1" stroke="#4186f1"/>
<path d="M8 45.5h1" stroke="#408df2"/>
<path d="M9 45.5h1" stroke="#3f94f1"/>
<path d="M10 45.5h1" stroke="#3e99ef"/>
<path d="M11 45.5h1" stroke="#3ba0eb"/>
<path d="M12 45.5h1" stroke="#39a4e7"/>
<path d="M13 45.5h1" stroke="#36abe1"/>
<path d="M14 45.5h1" stroke="#33b0de"/>
<path d="M15 45.5h1" stroke="#2eb6d9"/>
<path d="M16 45.5h1" stroke="#2bbbd7"/>
<path d="M17 45.5h1" stroke="#27c1d2"/>
<path d="M18 45.5h1" stroke="#24c5cf"/>
<path d="M19 45.5h1" stroke="#23c7ce"/>
<path d="M20 45.5h4" stroke="#21cbca"/>
<path d="M24 45.5h1" stroke="#22c9cb"/>
<path d="M25 45.5h1" stroke="#23c7cd"/>
<path d="M26 45.5h1" stroke="#24c5d0"/>
<path d="M27 45.5h1" stroke="#23c7cd"/>
<path d="M28 45.5h1" stroke="#22c9cb"/>
<path d="M29 45.5h1" stroke="#21cbca"/>
<path d="M30 45.5h1" stroke="#20cec6"/>
<path d="M31 45.5h1" stroke="#1fd4bf"/>
<path d="M32 45.5h1" stroke="#1fd8b8"/>
<path d="M33 45.5h1" stroke="#23deb0"/>
<path d="M34 45.5h1" stroke="#29e2a6"/>
<path d="M35 45.5h1" stroke="#32e79b"/>
<path d="M36 45.5h1" stroke="#3deb8f"/>
<path d="M37 45.5h1" stroke="#4aee83"/>
<path d="M38 45.5h1" stroke="#54f079"/>
<path d="M39 45.5h1" stroke="#5cf173"/>
<path d="M40 45.5h1" stroke="#67f36a"/>
<path d="M41 45.5h1" stroke="#72f461"/>
<path d="M42 45.5h1" stroke="#7cf459"/>
<path d="M43 45.5h1" stroke="#8af54f"/>
<path d="M44 45.5h1" stroke="#96f446"/>
<path d="M45 45.5h1" stroke="#a3f23f"/>
<path d="M46 45.5h1" stroke="#afee3b"/>
<path d="M47 45.5h1" stroke="#b7ec39"/>
<path d="M48 45.5h1" stroke="#b9ea39"/>
<path d="M49 45.5h1" stroke="#b7ec39"/>
<path d="M50 45.5h3" stroke="#afee3b"/>
<path d="M-3 46.5h4" stroke="#3f53ac"/>
<path d="M1 46.5h1" stroke="#3f56b1"/>
<path d="M2 46.5h1" stroke="#405aba"/>
<path d="M3 46.5h1" stroke="#415fc3"/>
<path d="M4 46.5h1" stroke="#4266ce"/>
<path d="M5 46.5h1" stroke="#426dd9"/>
<path d="M6 46.5h1" stroke="#4274e3"/>
<path d="M7 46.5h1" stroke="#427deb"/>
<path d="M8 46.5h1" stroke="#4284ef"/>
<path d="M9 46.5h1" stroke="#408bf2"/>
<path d="M10 46.5h1" stroke="#3f92f2"/>
<path d="M11 46.5h1" stroke="#3e96f0"/>
<path d="M12 46.5h1" stroke="#3c9ded"/>
<path d="M13 46.5h1" stroke="#3ba2e8"/>
<path d="M14 46.5h1" stroke="#36abe1"/>
<path d="M15 46.5h1" stroke="#32b2dc"/>
<path d="M16 46.5h1" stroke="#2eb6da"/>
<path d="M17 46.5h1" stroke="#2abdd5"/>
<path d="M18 46.5h1" stroke="#27c1d2"/>
<path d="M19 46.5h1" stroke="#24c5cf"/>
<path d="M20 46.5h1" stroke="#23c7ce"/>
<path d="M21 46.5h1" stroke="#22c9cc"/>
<path d="M22 46.5h1" stroke="#21cbca"/>
<path d="M23 46.5h1" stroke="#22c9cc"/>
<path d="M24 46.5h1" stroke="#22c9cb"/>
<path d="M25 46.5h1" stroke="#23c7cd"/>
<path d="M26 46.5h1" stroke="#24c5d0"/>
<path d="M27 46.5h1" stroke="#23c7cd"/>
<path d="M28 46.5h1" stroke="#23c7ce"/>
<path d="M29 46.5h1" stroke="#22c9cc"/>
<path d="M30 46.5h1" stroke="#21cbca"/>
<path d="M31 46.5h1" stroke="#20cec6"/>
<path d="M32 46.5h1" stroke="#1fd4bf"/>
<path d="M33 46.5h1" stroke="#1fd8b8"/>
<path d="M34 46.5h1" stroke="#23deb0"/>
<path d="M35 46.5h1" stroke="#29e2a6"/>
<path d="M36 46.5h1" stroke="#32e79b"/>
<path d="M37 46.5h1" stroke="#3deb8f"/>
<path d="M38 46.5h1" stroke="#47ed86"/>
<path d="M39 46.5h1" stroke="#51ef7d"/>
<path d="M40 46.5h1" stroke="#5cf173"/>
<path d="M41 46.5h1" stroke="#67f36a"/>
<path d="M42 46.5h1" stroke="#72f461"/>
<path d="M43 46.5h1" stroke="#80f556"/>
<path d="M44 46.5h1" stroke="#8af54f"/>
<path d="M45 46.5h1" stroke="#99f445"/>
<path d="M46 46.5h1" stroke="#a1f340"/>
<path d="M47 46.5h1" stroke="#a8f13d"/>
<path d="M48 46.5h1" stroke="#adef3b"/>
<path d="M49 46.5h1" stroke="#abf03c"/>
<path d="M50 46.5h3" stroke="#a8f13d"/>
<path d="M-3 47.5h4" stroke="#3e4ea3"/>
<path d="M1 47.5h1" stroke="#3f51a8"/>
<path d="M2 47.5h1" stroke="#3f53ac"/>
<path d="M3 47.5h1" stroke="#4058b5"/>
<path d="M4 47.5h1" stroke="#415dbe"/>
<path d="M5 47.5h1" stroke="#4164ca"/>
<path d="M6 47.5h1" stroke="#426bd5"/>
<path d="M7 47.5h1" stroke="#4274e2"/>
<path d="M8 47.5h1" stroke="#427deb"/>
<path d="M9 47.5h1" stroke="#4284ef"/>
<path d="M10 47.5h1" stroke="#4188f1"/>
<path d="M11 47.5h1" stroke="#3f8ff2"/>
<path d="M12 47.5h1" stroke="#3f94f1"/>
<path d="M13 47.5h1" stroke="#3c9dec"/>
<path d="M14 47.5h1" stroke="#3aa4e6"/>
<path d="M15 47.5h1" stroke="#35aedf"/>
<path d="M16 47.5h1" stroke="#30b4da"/>
<path d="M17 47.5h1" stroke="#2db9d8"/>
<path d="M18 47.5h1" stroke="#2abdd6"/>
<path d="M19 47.5h1" stroke="#27c1d3"/>
<path d="M20 47.5h1" stroke="#24c5d0"/>
<path d="M21 47.5h3" stroke="#22c9cc"/>
<path d="M24 47.5h1" stroke="#22c9cb"/>
<path d="M25 47.5h1" stroke="#23c7ce"/>
<path d="M26 47.5h3" stroke="#23c7cd"/>
<path d="M29 47.5h1" stroke="#23c7ce"/>
<path d="M30 47.5h1" stroke="#22c9cc"/>
<path d="M31 47.5h1" stroke="#21cbca"/>
<path d="M32 47.5h1" stroke="#20cec6"/>
<path d="M33 47.5h1" stroke="#1fd4bf"/>
<path d="M34 47.5h1" stroke="#1fd8b8"/>
<path d="M35 47.5h1" stroke="#23deb0"/>
<path d="M36 47.5h1" stroke="#29e2a6"/>
<path d="M37 47.5h1" stroke="#32e79b"/>
<path d="M38 47.5h1" stroke="#3deb8f"/>
<path d="M39 47.5h1" stroke="#47ed86"/>
<path d="M40 47.5h1" stroke="#54f079"/>
<path d="M41 47.5h1" stroke="#5ff270"/>
<path d="M42 47.5h1" stroke="#6af367"/>
<path d="M43 47.5h1" stroke="#75f45e"/>
<path d="M44 47.5h1" stroke="#80f556"/>
<path d="M45 47.5h1" stroke="#8af54f"/>
<path d="M46 47.5h1" stroke="#93f448"/>
<path d="M47 47.5h1" stroke="#99f445"/>
<path d="M48 47.5h5" stroke="#9ef341"/>
<path d="M-3 48.5h5" stroke="#3d4c9f"/>
<path d="M2 48.5h1" stroke="#3e4ea3"/>
<path d="M3 48.5h1" stroke="#3f51a8"/>
<path d="M4 48.5h1" stroke="#3f53ac"/>
<path d="M5 48.5h1" stroke="#405aba"/>
<path d="M6 48.5h1" stroke="#4161c6"/>
<path d="M7 48.5h1" stroke="#426bd5"/>
<path d="M8 48.5h1" stroke="#4274e2"/>
<path d="M9 48.5h1" stroke="#427deb"/>
<path d="M10 48.5h1" stroke="#4284ef"/>
<path d="M11 48.5h1" stroke="#4188f1"/>
<path d="M12 48.5h1" stroke="#3f8ff2"/>
<path d="M13 48.5h1" stroke="#3d99ef"/>
<path d="M14 48.5h1" stroke="#3ba0ea"/>
<path d="M15 48.5h1" stroke="#37a9e3"/>
<path d="M16 48.5h1" stroke="#33b0de"/>
<path d="M17 48.5h1" stroke="#2eb6d9"/>
<path d="M18 48.5h1" stroke="#2bbbd7"/>
<path d="M19 48.5h1" stroke="#27c1d2"/>
<path d="M20 48.5h1" stroke="#24c5cf"/>
<path d="M21 48.5h1" stroke="#23c7ce"/>
<path d="M22 48.5h2" stroke="#22c9cc"/>
<path d="M24 48.5h1" stroke="#22c9cb"/>
<path d="M25 48.5h1" stroke="#23c7ce"/>
<path d="M26 48.5h4" stroke="#23c7cd"/>
<path d="M30 48.5h1" stroke="#23c7ce"/>
<path d="M31 48.5h1" stroke="#22c9cc"/>
<path d="M32 48.5h1" stroke="#21cbca"/>
<path d="M33 48.5h1" stroke="#20cec6"/>
<path d="M34 48.5h1" stroke="#1fd4bf"/>
<path d="M35 48.5h1" stroke="#1fd8b8"/>
<path d="M36 48.5h1" stroke="#23deb0"/>
<path d="M37 48.5h1" stroke="#29e2a6"/>
<path d="M38 48.5h1" stroke="#32e79b"/>
<path d="M39 48.5h1" stroke="#3deb8f"/>
<path d="M40 48.5h1" stroke="#4aee83"/>
<path d="M41 48.5h1" stroke="#54f079"/>
<path d="M42 48.5h1" stroke="#5ff270"/>
<path d="M43 48.5h1" stroke="#6af367"/>
<path d="M44 48.5h1" stroke="#75f45e"/>
<path d="M45 48.5h1" stroke="#7cf459"/>
<path d="M46 48.5h1" stroke="#83f554"/>
<path d="M47 48.5h1" stroke="#8af54f"/>
<path d="M48 48.5h1" stroke="#8df54d"/>
<path d="M49 48.5h4" stroke="#93f448"/>
<path d="M-3 49.5h7" stroke="#3d4c9f"/>
<path d="M4 49.5h1" stroke="#3e4ea3"/>
<path d="M5 49.5h1" stroke="#3f53ac"/>
<path d="M6 49.5h1" stroke="#4058b6"/>
<path d="M7 49.5h1" stroke="#4161c7"/>
<path d="M8 49.5h1" stroke="#426bd6"/>
<path d="M9 49.5h1" stroke="#4276e5"/>
<path d="M10 49.5h1" stroke="#427deb"/>
<path d="M11 49.5h1" stroke="#4186f1"/>
<path d="M12 49.5h1" stroke="#408df2"/>
<path d="M13 49.5h1" stroke="#3e96f1"/>
<path d="M14 49.5h1" stroke="#3c9dec"/>
<path d="M15 49.5h1" stroke="#38a7e5"/>
<path d="M16 49.5h1" stroke="#35aedf"/>
<path d="M17 49.5h1" stroke="#30b4db"/>
<path d="M18 49.5h1" stroke="#2bbbd7"/>
<path d="M19 49.5h1" stroke="#27c1d2"/>
<path d="M20 49.5h1" stroke="#24c5cf"/>
<path d="M21 49.5h1" stroke="#23c7ce"/>
<path d="M22 49.5h2" stroke="#22c9cc"/>
<path d="M24 49.5h1" stroke="#22c9cb"/>
<path d="M25 49.5h1" stroke="#23c7cd"/>
<path d="M26 49.5h1" stroke="#24c5d0"/>
<path d="M27 49.5h4" stroke="#24c5cf"/>
<path d="M31 49.5h1" stroke="#23c7ce"/>
<path d="M32 49.5h1" stroke="#22c9cc"/>
<path d="M33 49.5h1" stroke="#21cdc8"/>
<path d="M34 49.5h1" stroke="#1fd0c3"/>
<path d="M35 49.5h1" stroke="#1fd5bd"/>
<path d="M36 49.5h1" stroke="#20dab6"/>
<path d="M37 49.5h1" stroke="#23deb0"/>
<path d="M38 49.5h1" stroke="#29e2a6"/>
<path d="M39 49.5h1" stroke="#32e79b"/>
<path d="M40 49.5h1" stroke="#3deb8f"/>
<path d="M41 49.5h1" stroke="#4aee83"/>
<path d="M42 49.5h1" stroke="#58f176"/>
<path d="M43 49.5h1" stroke="#63f26d"/>
<path d="M44 49.5h1" stroke="#6af367"/>
<path d="M45 49.5h1" stroke="#72f461"/>
<path d="M46 49.5h1" stroke="#75f45e"/>
<path d="M47 49.5h1" stroke="#79f45b"/>
<path d="M48 49.5h1" stroke="#80f556"/>
<path d="M49 49.5h1" stroke="#87f551"/>
<path d="M50 49.5h3" stroke="#8af54f"/>
<path d="M-3 50.5h4" stroke="#3d4c9f"/>
<path d="M1 50.5h2" stroke="#3e4ea3"/>
<path d="M3 50.5h1" stroke="#3d4c9f"/>
<path d="M4 50.5h2" stroke="#3e4ea3"/>
<path d="M6 50.5h1" stroke="#3f56b1"/>
<path d="M7 50.5h1" stroke="#415dbf"/>
<path d="M8 50.5h1" stroke="#4268d2"/>
<path d="M9 50.5h1" stroke="#4271e0"/>
<path d="M10 50.5h1" stroke="#427deb"/>
<path d="M11 50.5h1" stroke="#4186f1"/>
<path d="M12 50.5h1" stroke="#408df2"/>
<path d="M13 50.5h1" stroke="#3e96f1"/>
<path d="M14 50.5h1" stroke="#3c9dec"/>
<path d="M15 50.5h1" stroke="#3aa4e7"/>
<path d="M16 50.5h1" stroke="#35aedf"/>
<path d="M17 50.5h1" stroke="#30b4db"/>
<path d="M18 50.5h1" stroke="#2bbbd7"/>
<path d="M19 50.5h1" stroke="#27c1d3"/>
<path d="M20 50.5h1" stroke="#24c5d0"/>
<path d="M21 50.5h3" stroke="#22c9cc"/>
<path d="M24 50.5h1" stroke="#23c7ce"/>
<path d="M25 50.5h1" stroke="#23c7cd"/>
<path d="M26 50.5h1" stroke="#24c5cf"/>
<path d="M27 50.5h3" stroke="#26c3d1"/>
<path d="M30 50.5h1" stroke="#24c5cf"/>
<path d="M31 50.5h1" stroke="#23c7cd"/>
<path d="M32 50.5h1" stroke="#22c9cc"/>
<path d="M33 50.5h1" stroke="#21cdc8"/>
<path d="M34 50.5h1" stroke="#1fd0c3"/>
<path d="M35 50.5h1" stroke="#1fd4bf"/>
<path d="M36 50.5h1" stroke="#1fd7ba"/>
<path d="M37 50.5h1" stroke="#20dbb4"/>
<path d="M38 50.5h1" stroke="#25e0ab"/>
<path d="M39 50.5h1" stroke="#2de5a1"/>
<path d="M40 50.5h1" stroke="#37e995"/>
<path d="M41 50.5h1" stroke="#43ec89"/>
<path d="M42 50.5h1" stroke="#51ef7d"/>
<path d="M43 50.5h1" stroke="#5ff270"/>
<path d="M44 50.5h1" stroke="#67f36a"/>
<path d="M45 50.5h1" stroke="#6ef464"/>
<path d="M46 50.5h1" stroke="#72f461"/>
<path d="M47 50.5h1" stroke="#75f45e"/>
<path d="M48 50.5h1" stroke="#79f45b"/>
<path d="M49 50.5h1" stroke="#83f554"/>
<path d="M50 50.5h3" stroke="#87f551"/>
<path d="M-3 51.5h4" stroke="#3d4c9f"/>
<path d="M1 51.5h2" stroke="#3e4ea3"/>
<path d="M3 51.5h1" stroke="#3d4c9f"/>
<path d="M4 51.5h2" stroke="#3e4ea3"/>
<path d="M6 51.5h1" stroke="#3f56b1"/>
<path d="M7 51.5h1" stroke="#415dbf"/>
<path d="M8 51.5h1" stroke="#4268d2"/>
<path d="M9 51.5h1" stroke="#4271e0"/>
<path d="M10 51.5h1" stroke="#427deb"/>
<path d="M11 51.5h1" stroke="#4186f1"/>
<path d="M12 51.5h1" stroke="#408df2"/>
<path d="M13 51.5h1" stroke="#3e96f1"/>
<path d="M14 51.5h1" stroke="#3c9dec"/>
<path d="M15 51.5h1" stroke="#3aa4e7"/>
<path d="M16 51.5h1" stroke="#35aedf"/>
<path d="M17 51.5h1" stroke="#30b4db"/>
<path d="M18 51.5h1" stroke="#2bbbd7"/>
<path d="M19 51.5h1" stroke="#27c1d3"/>
<path d="M20 51.5h1" stroke="#24c5d0"/>
<path d="M21 51.5h3" stroke="#22c9cc"/>
<path d="M24 51.5h1" stroke="#23c7ce"/>
<path d="M25 51.5h1" stroke="#23c7cd"/>
<path d="M26 51.5h1" stroke="#24c5cf"/>
<path d="M27 51.5h3" stroke="#26c3d1"/>
<path d="M30 51.5h1" stroke="#24c5cf"/>
<path d="M31 51.5h1" stroke="#23c7cd"/>
<path d="M32 51.5h1" stroke="#22c9cc"/>
<path d="M33 51.5h1" stroke="#21cdc8"/>
<path d="M34 51.5h1" stroke="#1fd0c3"/>
<path d="M35 51.5h1" stroke="#1fd4bf"/>
<path d="M36 51.5h1" stroke="#1fd7ba"/>
<path d="M37 51.5h1" stroke="#20dbb4"/>
<path d="M38 51.5h1" stroke="#25e0ab"/>
<path d="M39 51.5h1" stroke="#2de5a1"/>
<path d="M40 51.5h1" stroke="#37e995"/>
<path d="M41 51.5h1" stroke="#43ec89"/>
<path d="M42 51.5h1" stroke="#51ef7d"/>
<path d="M43 51.5h1" stroke="#5ff270"/>
<path d="M44 51.5h1" stroke="#67f36a"/>
<path d="M45 51.5h1" stroke="#6ef464"/>
<path d="M46 51.5h1" stroke="#72f461"/>
<path d="M47 51.5h1" stroke="#75f45e"/>
<path d="M48 51.5h1" stroke="#79f45b"/>
<path d="M49 51.5h1" stroke="#83f554"/>
<path d="M50 51.5h3" stroke="#87f551"/>
<path d="M-3 52.5h4" stroke="#3d4c9f"/>
<path d="M1 52.5h2" stroke="#3e4ea3"/>
<path d="M3 52.5h1" stroke="#3d4c9f"/>
<path d="M4 52.5h2" stroke="#3e4ea3"/>
<path d="M6 52.5h1" stroke="#3f56b1"/>
<path d="M7 52.5h1" stroke="#415dbf"/>
<path d="M8 52.5h1" stroke="#4268d2"/>
<path d="M9 52.5h1" stroke="#4271e0"/>
<path d="M10 52.5h1" stroke="#427deb"/>
<path d="M11 52.5h1" stroke="#4186f1"/>
<path d="M12 52.5h1" stroke="#408df2"/>
<path d="M13 52.5h1" stroke="#3e96f1"/>
<path d="M14 52.5h1" stroke="#3c9dec"/>
<path d="M15 52.5h1" stroke="#3aa4e7"/>
<path d="M16 52.5h1" stroke="#35aedf"/>
<path d="M17 52.5h1" stroke="#30b4db"/>
<path d="M18 52.5h1" stroke="#2bbbd7"/>
<path d="M19 52.5h1" stroke="#27c1d3"/>
<path d="M20 52.5h1" stroke="#24c5d0"/>
<path d="M21 52.5h3" stroke="#22c9cc"/>
<path d="M24 52.5h1" stroke="#23c7ce"/>
<path d="M25 52.5h1" stroke="#23c7cd"/>
<path d="M26 52.5h1" stroke="#24c5cf"/>
<path d="M27 52.5h3" stroke="#26c3d1"/>
<path d="M30 52.5h1" stroke="#24c5cf"/>
<path d="M31 52.5h1" stroke="#23c7cd"/>
<path d="M32 52.5h1" stroke="#22c9cc"/>
<path d="M33 52.5h1" stroke="#21cdc8"/>
<path d="M34 52.5h1" stroke="#1fd0c3"/>
<path d="M35 52.5h1" stroke="#1fd4bf"/>
<path d="M36 52.5h1" stroke="#1fd7ba"/>
<path d="M37 52.5h1" stroke="#20dbb4"/>
<path d="M38 52.5h1" stroke="#25e0ab"/>
<path d="M39 52.5h1" stroke="#2de5a1"/>
<path d="M40 52.5h1" stroke="#37e995"/>
<path d="M41 52.5h1" stroke="#43ec89"/>
<path d="M42 52.5h1" stroke="#51ef7d"/>
<path d="M43 52.5h1" stroke="#5ff270"/>
<path d="M44 52.5h1" stroke="#67f36a"/>
<path d="M45 52.5h1" stroke="#6ef464"/>
<path d="M46 52.5h1" stroke="#72f461"/>
<path d="M47 52.5h1" stroke="#75f45e"/>
<path d="M48 52.5h1" stroke="#79f45b"/>
<path d="M49 52.5h1" stroke="#83f554"/>
<path d="M50 52.5h3" stroke="#87f551"/>
</g></g></g>

<!-- current vectors -->
<g clip-path="url(#mapclip)" fill="none" stroke="#000" stroke-width="1.7" stroke-linecap="round" stroke-linejoin="round">
<path d="M291.8 350.5Q255.0 351.6 219.3 354.5"/>
<path fill="#000" stroke="none" d="M206.9 355.5L221.9 349.0L222.8 359.5Z"/>
<path d="M490.5 350.0L414.8 354.2"/>
<path fill="#000" stroke="none" d="M402.4 354.9L417.6 348.7L418.2 359.3Z"/>
<path d="M690.7 349.5L612.6 349.9"/>
<path fill="#000" stroke="none" d="M600.2 350.0L615.7 344.6L615.7 355.2Z"/>
<path d="M890.5 349.1L811.9 344.1"/>
<path fill="#000" stroke="none" d="M799.5 343.3L815.3 339.0L814.6 349.6Z"/>
<path d="M291.8 551.2Q250.0 559.5 223.9 565.2"/>
<path fill="#000" stroke="none" d="M211.8 567.8L225.8 559.3L228.1 569.7Z"/>
<path d="M491.4 551.2Q448.0 560.5 418.8 566.7"/>
<path fill="#000" stroke="none" d="M406.7 569.3L420.8 560.9L423.0 571.3Z"/>
<path d="M690.7 550.7Q646.0 557.3 614.4 562.8"/>
<path fill="#000" stroke="none" d="M602.2 564.9L616.6 557.0L618.4 567.5Z"/>
<path d="M890.5 549.8Q846.0 550.6 814.1 554.2"/>
<path fill="#000" stroke="none" d="M801.8 555.6L816.6 548.6L817.8 559.1Z"/>
<path d="M293.0 752.4Q258.0 765.5 233.9 772.9"/>
<path fill="#000" stroke="none" d="M222.0 776.5L235.3 766.9L238.4 777.0Z"/>
<path d="M492.5 752.4Q456.0 767.5 430.8 777.1"/>
<path fill="#000" stroke="none" d="M419.2 781.5L431.8 771.0L435.6 780.9Z"/>
<path d="M691.8 752.1Q654.0 765.0 627.3 774.0"/>
<path fill="#000" stroke="none" d="M615.6 778.0L628.6 768.0L632.0 778.0Z"/>
<path d="M892.5 750.0Q858.0 750.0 831.9 756.2"/>
<path fill="#000" stroke="none" d="M819.8 759.1L833.6 750.4L836.1 760.7Z"/>
<path d="M897.6 947L881.6 923.2L877.6 921.6"/><path fill="#000" stroke="none" d="M864 914.2L880.2 916.8L874.7 926.6Z"/>
</g>

<!-- station -->
<circle cx="437.5" cy="710.5" r="6.3" fill="#fff" stroke="#000" stroke-width="2.15"/>

<!-- gridlines -->
<g stroke="#b6b9b9" stroke-opacity=".85" stroke-width="1.5" fill="none">
<path d="M140.2 150V950M640.2 150V950M100 650H900"/>
</g>

<!-- frame -->
<rect x="100.4" y="150.1" width="800.2" height="800.1" fill="none" stroke="#000" stroke-width="2.7"/>
<g stroke="#000" fill="none">
<path stroke-width="1.9" d="M140.1 142.3V149M140.1 951V957.8M640.1 142.3V149M640.1 951V957.8"/>
<path stroke-width="1.5" d="M92.3 150H99M902 150H907.9M92.3 650H99M902 650H907.9"/>
<path stroke-width="1.5" d="M190.1 146V149M190.1 951V953.8M240.1 146V149M240.1 951V953.8M290.1 146V149M290.1 951V953.8M340.1 146V149M340.1 951V953.8M390.1 146V149M390.1 951V953.8M440.1 146V149M440.1 951V953.8M490.1 146V149M490.1 951V953.8M540.1 146V149M540.1 951V953.8M590.1 146V149M590.1 951V953.8M690.1 146V149M690.1 951V953.8M740.1 146V149M740.1 951V953.8M790.1 146V149M790.1 951V953.8M840.1 146V149M840.1 951V953.8M890.1 146V149M890.1 951V953.8M96.2 200H99M902 200H904M96.2 250H99M902 250H904M96.2 300H99M902 300H904M96.2 350H99M902 350H904M96.2 400H99M902 400H904M96.2 450H99M902 450H904M96.2 500H99M902 500H904M96.2 550H99M902 550H904M96.2 600H99M902 600H904M96.2 700H99M902 700H904M96.2 750H99M902 750H904M96.2 800H99M902 800H904M96.2 850H99M902 850H904M96.2 900H99M902 900H904M96.2 950H99M902 950H904"/>
</g>

<!-- labels -->
<text class="sb" x="499.6" y="30.2" font-size="19.35" text-anchor="middle">Mississippi Sound, Gulfport</text>
<text class="sb" x="499.6" y="1044.5" font-size="19.35" text-anchor="middle">Mississippi Sound, Gulfport</text>
<circle cx="120.3" cy="45.2" r="6.25" fill="#fff" stroke="#000" stroke-width="2.05"/>
<text class="sb" x="130.2" y="50.4" font-size="13.85">USM Instrumentation</text>

<rect x="582.2" y="40" width="312.7" height="39.6" fill="#fff" stroke="#000" stroke-width="2"/>
<g class="sb" font-size="12.4">
<text x="586" y="54.6">0.25 kts</text>
<text x="586" y="64.5">0.50 kts</text>
<text x="586" y="74.3">0.75 kts</text>
</g>
<g stroke="#222" stroke-width="0.8">
<path d="M803.5 50.3H880M722 60.4H880M641 70.5H880"/>
</g>
<g fill="#000">
<path d="M893 50L878.4 45.1V54.9Z"/>
<path d="M893 60.2L878.4 55.3V65.1Z"/>
<path d="M893 70.4L878.4 65.5V75.3Z"/>
</g>
<text class="sb" x="582.3" y="93.5" font-size="11.05">CURRENTS Vectors</text>
<text class="tb" x="235" y="115" font-size="18.15">Water Temperature at surface FORECAST valid Jul 14 2022 12:00Z</text>
<text class="tb" x="811" y="110" font-size="13.9">Gulf of Mexico</text>

<g class="sr" font-size="10.8">
<text x="139.8" y="135" text-anchor="middle">−89°05'15"</text>
<text x="639.8" y="135" text-anchor="middle">−89°04'30"</text>
<text x="139.8" y="973" text-anchor="middle">−89°05'15"</text>
<text x="639.8" y="973" text-anchor="middle">−89°04'30"</text>
<text x="84.2" y="153.9" text-anchor="end" font-size="10.95">30°16'30"</text>
<text x="84.2" y="653.9" text-anchor="end" font-size="10.95">30°15'45"</text>
<text x="915" y="153.9">30°16'30"</text>
<text x="915" y="653.9">30°15'45"</text>
</g>

<!-- colorbar -->
<rect x="980.2" y="400" width="20.2" height="300" fill="url(#cb)" stroke="#000" stroke-width="2.7"/>
<g stroke="#d2ccc8" stroke-linecap="round"><path stroke-width="1.5" d="M979.3 450H1001.2M979.3 500H1001.2M979.3 550H1001.2M979.3 600H1001.2M979.3 650H1001.2"/><path stroke-width="1.05" d="M979.3 400H1001.2M979.3 700H1001.2"/></g>
<g stroke="#111" stroke-width="1.35"><path d="M1001.8 400H1008.6M1001.6 450H1008.6M1001.6 500H1008.6M1001.6 550H1008.6M1001.6 600H1008.6M1001.6 650H1008.6M1001.6 700H1008.6"/></g>
<g class="sr" font-size="10.6">
<text x="1015" y="403.8">91</text><text x="1015" y="453.8">90</text><text x="1015" y="503.8">89</text><text x="1015" y="553.8">88</text><text x="1015" y="603.8">87</text><text x="1015" y="653.8">86</text><text x="1015" y="703.8">85</text>
</g>
<text class="sb" font-size="14.1" text-anchor="middle" transform="translate(1055.2,549.7) rotate(-90)">Temp (F)</text>
</svg>
</body></html>
